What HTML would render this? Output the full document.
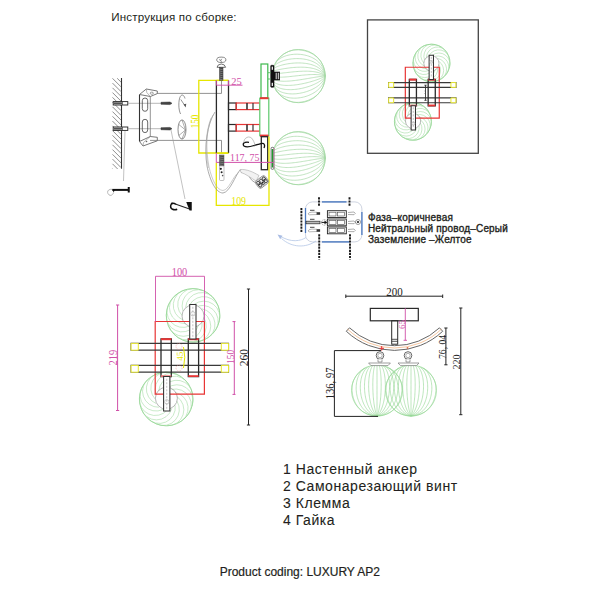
<!DOCTYPE html>
<html><head><meta charset="utf-8"><style>
html,body{margin:0;padding:0;background:#fff;width:600px;height:600px;overflow:hidden;font-family:"Liberation Sans",sans-serif;}
</style></head><body>
<svg width="600" height="600" viewBox="0 0 600 600" style="position:absolute;left:0;top:0">
<rect width="600" height="600" fill="#fff"/>
<text x="111.30" y="20.60" font-family="Liberation Sans" font-size="11.6" fill="#231f20" text-anchor="start" letter-spacing="0.17">Инструкция по сборке:</text>
<line x1="121.50" y1="78.00" x2="121.50" y2="168.70" stroke="#333" stroke-width="1.1" />
<line x1="117.20" y1="78.30" x2="121.00" y2="82.10" stroke="#6a6a6a" stroke-width="0.75" />
<line x1="112.50" y1="78.35" x2="121.00" y2="86.85" stroke="#6a6a6a" stroke-width="0.75" />
<line x1="112.50" y1="83.10" x2="121.00" y2="91.60" stroke="#6a6a6a" stroke-width="0.75" />
<line x1="112.50" y1="87.85" x2="121.00" y2="96.35" stroke="#6a6a6a" stroke-width="0.75" />
<line x1="112.50" y1="92.60" x2="121.00" y2="101.10" stroke="#6a6a6a" stroke-width="0.75" />
<line x1="112.50" y1="97.35" x2="121.00" y2="105.85" stroke="#6a6a6a" stroke-width="0.75" />
<line x1="112.50" y1="102.10" x2="121.00" y2="110.60" stroke="#6a6a6a" stroke-width="0.75" />
<line x1="112.50" y1="106.85" x2="121.00" y2="115.35" stroke="#6a6a6a" stroke-width="0.75" />
<line x1="112.50" y1="111.60" x2="121.00" y2="120.10" stroke="#6a6a6a" stroke-width="0.75" />
<line x1="112.50" y1="116.35" x2="121.00" y2="124.85" stroke="#6a6a6a" stroke-width="0.75" />
<line x1="112.50" y1="121.10" x2="121.00" y2="129.60" stroke="#6a6a6a" stroke-width="0.75" />
<line x1="112.50" y1="125.85" x2="121.00" y2="134.35" stroke="#6a6a6a" stroke-width="0.75" />
<line x1="112.50" y1="130.60" x2="121.00" y2="139.10" stroke="#6a6a6a" stroke-width="0.75" />
<line x1="112.50" y1="135.35" x2="121.00" y2="143.85" stroke="#6a6a6a" stroke-width="0.75" />
<line x1="112.50" y1="140.10" x2="121.00" y2="148.60" stroke="#6a6a6a" stroke-width="0.75" />
<line x1="112.50" y1="144.85" x2="121.00" y2="153.35" stroke="#6a6a6a" stroke-width="0.75" />
<line x1="112.50" y1="149.60" x2="121.00" y2="158.10" stroke="#6a6a6a" stroke-width="0.75" />
<line x1="112.50" y1="154.35" x2="121.00" y2="162.85" stroke="#6a6a6a" stroke-width="0.75" />
<line x1="112.50" y1="159.10" x2="121.00" y2="167.60" stroke="#6a6a6a" stroke-width="0.75" />
<line x1="112.50" y1="163.85" x2="117.65" y2="169.00" stroke="#6a6a6a" stroke-width="0.75" />
<line x1="112.50" y1="168.60" x2="112.90" y2="169.00" stroke="#6a6a6a" stroke-width="0.75" />
<rect x="113.20" y="101.60" width="14.60" height="3.40" fill="#fff" stroke="#222" stroke-width="0.9" />
<rect x="113.80" y="102.30" width="8.40" height="2.00" fill="#555" stroke="none" stroke-width="0" />
<line x1="122.50" y1="101.60" x2="122.50" y2="105.00" stroke="#333" stroke-width="0.6" />
<line x1="128.00" y1="103.30" x2="161.00" y2="103.30" stroke="#999" stroke-width="0.7" />
<path d="M161,102.30 L170,102.00 L172,103.30 L170,104.60 L161,104.30 Z" fill="#444" stroke="#333" stroke-width="0.5"/>
<rect x="113.20" y="127.00" width="14.60" height="3.40" fill="#fff" stroke="#222" stroke-width="0.9" />
<rect x="113.80" y="127.70" width="8.40" height="2.00" fill="#555" stroke="none" stroke-width="0" />
<line x1="122.50" y1="127.00" x2="122.50" y2="130.40" stroke="#333" stroke-width="0.6" />
<line x1="128.00" y1="128.70" x2="161.00" y2="128.70" stroke="#999" stroke-width="0.7" />
<path d="M161,127.70 L170,127.40 L172,128.70 L170,130.00 L161,129.70 Z" fill="#444" stroke="#333" stroke-width="0.5"/>
<path d="M139.5,94.5 L139.5,141.5" fill="none" stroke="#333" stroke-width="1.1"/>
<path d="M150.3,96.5 L150.3,139" fill="none" stroke="#777" stroke-width="0.8"/>
<path d="M139.5,94.5 L146.3,89 L157.3,91 L157.3,93.6 L150.3,96.5 Z" fill="#fff" stroke="#555" stroke-width="0.8"/>
<path d="M146.3,89 L146.8,92.5 L150.3,96.5" fill="none" stroke="#888" stroke-width="0.6"/>
<ellipse cx="151.8" cy="93.2" rx="1.6" ry="1.1" fill="none" stroke="#666" stroke-width="0.6"/>
<path d="M139.5,141.5 L143,146 L157.3,140.8 L157.3,137.3 L150.3,136.5 Z" fill="#fff" stroke="#555" stroke-width="0.8"/>
<path d="M143,146 L143.5,142.5 L150.3,136.5" fill="none" stroke="#888" stroke-width="0.6"/>
<circle cx="146.5" cy="141.5" r="0.8" fill="#666"/>
<rect x="142.30" y="98.00" width="5.40" height="13.30" fill="none" stroke="#444" stroke-width="0.8" rx="2.7"/>
<rect x="142.30" y="119.30" width="5.40" height="13.30" fill="none" stroke="#444" stroke-width="0.8" rx="2.7"/>
<path d="M157,93.4 L221.5,93.4 L221.5,80.4" fill="none" stroke="#777" stroke-width="0.8"/>
<path d="M150,140.4 L221.5,140.4 L221.5,153" fill="none" stroke="#777" stroke-width="0.8"/>
<path d="M180.6,114 C178.3,110 178.3,100 180.3,96.5 C181.8,94 184,94.8 185,98.5 M180.8,99.5 L185.3,106.3" fill="none" stroke="#666" stroke-width="0.7"/>
<path d="M183.6,104.3 L185.6,107.4 L186.3,103.7 Z" fill="#555"/>
<ellipse cx="182" cy="129.5" rx="4" ry="9.6" fill="none" stroke="#666" stroke-width="0.75"/>
<path d="M178.8,124.5 L185.5,130 L178.8,135.5 M182,120 L185.5,130 L182,139" fill="none" stroke="#777" stroke-width="0.6"/>
<line x1="125.00" y1="131.00" x2="123.50" y2="181.00" stroke="#999" stroke-width="0.6" />
<line x1="171.00" y1="130.00" x2="185.00" y2="199.00" stroke="#999" stroke-width="0.6" />
<line x1="112.30" y1="189.90" x2="128.50" y2="189.90" stroke="#111" stroke-width="2.0" />
<rect x="127.75" y="187.00" width="2.00" height="5.50" fill="#111" stroke="none" stroke-width="0" />
<path d="M112.3,188.9 L115,189.5 L113.6,192.6 Z" fill="#111"/>
<path d="M112.3,189.3 C109.5,189 107.3,190.3 107.6,192.4 C107.9,194.6 109.8,195.8 111.2,195.3 C112.4,194.8 113.4,193.6 113.6,192.6" fill="none" stroke="#999" stroke-width="0.7"/>
<path d="M186.25,202 L191.75,202 L191.75,210.5 L189.5,210.5 Z" fill="#111"/>
<path d="M176,204.3 L189.5,208.9" fill="none" stroke="#222" stroke-width="1.1"/>
<path d="M176,204.3 C174,203 171.6,202.6 171,204.5 C170.3,206.5 170.8,208.4 172.5,209.2 C174,209.9 176,209.8 177.2,209.3" fill="none" stroke="#111" stroke-width="1.5"/>
<circle cx="172" cy="203.6" r="1" fill="#111"/>
<path d="M228.5,80.4 L198.8,80.4 L198.8,153 L228.5,153" fill="none" stroke="#e6e600" stroke-width="1.3"/>
<text transform="translate(195.40,121.50) rotate(-90) scale(0.78,1)" x="0" y="3.80" font-family="Liberation Serif" font-size="11.5" fill="#e6e600" text-anchor="middle" >150</text>
<path d="M216.4,80.4 L216.4,153 M228.5,153 L228.5,80.4" fill="none" stroke="#2a2a2a" stroke-width="1.3"/>
<line x1="216.40" y1="80.40" x2="228.50" y2="80.40" stroke="#e6e600" stroke-width="1.3" />
<line x1="216.40" y1="153.20" x2="228.50" y2="153.20" stroke="#e6e600" stroke-width="1.3" />
<ellipse cx="221.3" cy="59.8" rx="4.6" ry="2.7" fill="none" stroke="#555" stroke-width="0.7"/>
<path d="M219.5,59 L220.5,61 L221.8,58.8 M221.3,61 L221.3,62.5" fill="none" stroke="#555" stroke-width="0.6"/>
<path d="M217,67.3 Q217.5,64.2 221.3,64 Q225,64.2 225.6,67.3 Z" fill="#fff" stroke="#333" stroke-width="0.7"/>
<rect x="219.60" y="67.30" width="3.40" height="13.00" fill="#777" stroke="#333" stroke-width="0.5" />
<line x1="219.60" y1="68.00" x2="223.00" y2="68.80" stroke="#222" stroke-width="0.6" />
<line x1="219.60" y1="70.00" x2="223.00" y2="70.80" stroke="#222" stroke-width="0.6" />
<line x1="219.60" y1="72.00" x2="223.00" y2="72.80" stroke="#222" stroke-width="0.6" />
<line x1="219.60" y1="74.00" x2="223.00" y2="74.80" stroke="#222" stroke-width="0.6" />
<line x1="219.60" y1="76.00" x2="223.00" y2="76.80" stroke="#222" stroke-width="0.6" />
<line x1="219.60" y1="78.00" x2="223.00" y2="78.80" stroke="#222" stroke-width="0.6" />
<path d="M216.4,80.4 L216.4,85.2 M228.5,80.4 L228.5,85.2 M216.4,85.2 L242.5,85.2" fill="none" stroke="#d050a8" stroke-width="0.9"/>
<text transform="translate(236.50,85.00) scale(1.0,1.0)" x="0" y="0" font-family="Liberation Serif" font-size="10.5" fill="#d050a8" text-anchor="middle" >25</text>
<rect x="228.50" y="103.00" width="7.70" height="6.60" fill="none" stroke="#2a2a2a" stroke-width="1.2" />
<rect x="236.20" y="103.00" width="23.80" height="6.60" fill="none" stroke="#e83535" stroke-width="1.2" />
<line x1="247.00" y1="103.00" x2="247.00" y2="109.60" stroke="#333" stroke-width="1.6" />
<line x1="253.00" y1="103.00" x2="253.00" y2="109.60" stroke="#333" stroke-width="1.2" />
<rect x="228.50" y="124.50" width="7.70" height="6.60" fill="none" stroke="#2a2a2a" stroke-width="1.2" />
<rect x="236.20" y="124.50" width="23.80" height="6.60" fill="none" stroke="#e83535" stroke-width="1.2" />
<line x1="247.00" y1="124.50" x2="247.00" y2="131.10" stroke="#333" stroke-width="1.6" />
<line x1="253.00" y1="124.50" x2="253.00" y2="131.10" stroke="#333" stroke-width="1.2" />
<rect x="261.00" y="64.00" width="6.80" height="34.20" fill="#fff" stroke="#3cb84c" stroke-width="1.2" />
<rect x="259.80" y="98.20" width="9.00" height="37.50" fill="#fff" stroke="#5cc86c" stroke-width="1.2" />
<line x1="260.00" y1="98.20" x2="268.50" y2="98.20" stroke="#e83535" stroke-width="2.0" />
<line x1="260.00" y1="135.70" x2="268.50" y2="135.70" stroke="#e83535" stroke-width="2.2" />
<rect x="261.30" y="136.70" width="6.40" height="33.00" fill="none" stroke="#2a2a2a" stroke-width="1.3" />
<circle cx="298.60" cy="76.10" r="26.60" fill="none" stroke="#8fd48f" stroke-width="0.7"/>
<path d="M325.20,76.10 L325.14,74.38 L324.98,72.70 L324.71,71.04 L324.35,69.42 L323.89,67.85 L323.34,66.32 L322.70,64.84 L321.98,63.41 L321.18,62.04 L320.31,60.79 L319.37,59.63 L318.37,58.53 L317.31,57.49 L316.19,56.52 L315.02,55.62 L313.80,54.78 L312.54,54.00 L311.24,53.30 L309.91,52.65 L308.54,52.08 L307.15,51.57 L305.75,51.12 L304.32,50.74 L302.88,50.42 L301.43,50.17 L299.98,49.98 L298.53,49.86 L297.09,49.81 L295.65,49.81 L294.23,49.89 L292.83,50.13 L291.45,50.48 L290.09,50.90 L288.77,51.38 L287.48,51.94 L286.23,52.55 L285.03,53.22 L283.87,53.95 L282.77,54.73 L281.72,55.54 L280.74,56.39 L279.82,57.27 L278.97,58.15 L278.19,59.04 L277.50,59.91 L276.88,60.74 L276.36,61.51 L275.92,62.20" fill="none" stroke="#a6d8a6" stroke-width="0.7"/>
<path d="M325.20,76.10 L325.01,74.48 L324.73,72.93 L324.35,71.45 L323.88,70.03 L323.33,68.68 L322.70,67.39 L321.99,66.16 L321.20,65.00 L320.35,63.90 L319.43,62.86 L318.45,61.89 L317.42,60.97 L316.33,60.12 L315.19,59.32 L314.00,58.59 L312.77,57.91 L311.50,57.30 L310.20,56.74 L308.87,56.23 L307.52,55.79 L306.14,55.40 L304.74,55.07 L303.33,54.79 L301.90,54.57 L300.47,54.40 L299.04,54.29 L297.61,54.23 L296.18,54.22 L294.77,54.26 L293.36,54.36 L291.97,54.50 L290.61,54.70 L289.26,54.95 L287.95,55.25 L286.67,55.59 L285.42,55.99 L284.22,56.43 L283.06,56.92 L281.95,57.46 L280.89,58.05 L279.88,58.68 L278.94,59.35 L278.06,60.07 L277.24,60.84 L276.50,61.65 L275.84,62.50 L275.25,63.39 L274.75,64.33" fill="none" stroke="#a6d8a6" stroke-width="0.7"/>
<path d="M325.20,76.10 L324.88,74.71 L324.47,73.39 L323.98,72.13 L323.42,70.94 L322.77,69.80 L322.06,68.73 L321.28,67.71 L320.43,66.76 L319.52,65.86 L318.56,65.02 L317.54,64.24 L316.47,63.51 L315.35,62.83 L314.19,62.21 L312.99,61.64 L311.75,61.13 L310.48,60.66 L309.18,60.24 L307.85,59.88 L306.50,59.56 L305.13,59.29 L303.75,59.06 L302.35,58.88 L300.95,58.75 L299.54,58.66 L298.13,58.61 L296.72,58.60 L295.32,58.64 L293.92,58.71 L292.54,58.82 L291.17,58.98 L289.82,59.17 L288.50,59.39 L287.20,59.65 L285.93,59.95 L284.70,60.28 L283.50,60.64 L282.34,61.04 L281.23,61.47 L280.17,61.92 L279.15,62.41 L278.19,62.93 L277.29,63.47 L276.45,64.04 L275.67,64.63 L274.96,65.25 L274.33,65.90 L273.77,66.56" fill="none" stroke="#a6d8a6" stroke-width="0.7"/>
<path d="M325.20,76.10 L324.75,74.96 L324.22,73.88 L323.62,72.86 L322.95,71.90 L322.22,70.99 L321.42,70.14 L320.57,69.34 L319.66,68.60 L318.69,67.91 L317.68,67.27 L316.62,66.67 L315.52,66.13 L314.38,65.63 L313.20,65.18 L311.98,64.78 L310.74,64.42 L309.46,64.10 L308.16,63.82 L306.84,63.58 L305.50,63.39 L304.15,63.22 L302.78,63.10 L301.40,63.01 L300.02,62.96 L298.64,62.94 L297.25,62.95 L295.87,62.99 L294.49,63.06 L293.12,63.16 L291.77,63.29 L290.43,63.44 L289.10,63.62 L287.80,63.82 L286.53,64.04 L285.28,64.29 L284.06,64.55 L282.88,64.83 L281.73,65.14 L280.63,65.45 L279.57,65.79 L278.55,66.14 L277.58,66.50 L276.67,66.87 L275.81,67.26 L275.01,67.65 L274.28,68.05 L273.60,68.46 L273.00,68.88" fill="none" stroke="#a6d8a6" stroke-width="0.7"/>
<path d="M325.20,76.10 L324.61,75.22 L323.96,74.40 L323.25,73.63 L322.48,72.91 L321.66,72.24 L320.78,71.62 L319.86,71.05 L318.88,70.52 L317.87,70.04 L316.81,69.60 L315.71,69.20 L314.58,68.84 L313.41,68.52 L312.21,68.24 L310.98,68.00 L309.73,67.79 L308.45,67.61 L307.16,67.47 L305.85,67.35 L304.52,67.27 L303.18,67.21 L301.83,67.18 L300.48,67.18 L299.12,67.19 L297.76,67.24 L296.40,67.30 L295.05,67.38 L293.71,67.48 L292.37,67.60 L291.05,67.73 L289.74,67.88 L288.45,68.04 L287.18,68.21 L285.93,68.40 L284.71,68.59 L283.52,68.79 L282.36,68.99 L281.23,69.20 L280.14,69.41 L279.09,69.63 L278.09,69.84 L277.12,70.06 L276.21,70.27 L275.34,70.48 L274.53,70.68 L273.78,70.88 L273.08,71.07 L272.45,71.25" fill="none" stroke="#a6d8a6" stroke-width="0.7"/>
<path d="M325.20,76.10 L324.48,75.50 L323.71,74.95 L322.89,74.44 L322.02,73.98 L321.10,73.56 L320.15,73.18 L319.15,72.83 L318.11,72.53 L317.04,72.26 L315.94,72.02 L314.80,71.81 L313.63,71.64 L312.44,71.50 L311.23,71.38 L309.99,71.29 L308.73,71.23 L307.46,71.19 L306.17,71.18 L304.87,71.18 L303.55,71.20 L302.23,71.24 L300.91,71.30 L299.58,71.37 L298.25,71.46 L296.92,71.55 L295.59,71.66 L294.28,71.78 L292.97,71.90 L291.67,72.03 L290.38,72.17 L289.11,72.30 L287.86,72.44 L286.62,72.58 L285.41,72.72 L284.22,72.85 L283.07,72.98 L281.94,73.11 L280.84,73.23 L279.77,73.33 L278.75,73.43 L277.76,73.52 L276.81,73.59 L275.90,73.65 L275.04,73.69 L274.23,73.71 L273.47,73.72 L272.76,73.70 L272.11,73.67" fill="none" stroke="#a6d8a6" stroke-width="0.7"/>
<path d="M325.20,76.10 L324.35,75.80 L323.45,75.53 L322.52,75.30 L321.55,75.11 L320.55,74.94 L319.51,74.80 L318.44,74.70 L317.34,74.61 L316.22,74.56 L315.07,74.53 L313.89,74.52 L312.70,74.53 L311.48,74.56 L310.25,74.61 L309.00,74.67 L307.74,74.75 L306.47,74.85 L305.19,74.95 L303.90,75.06 L302.60,75.19 L301.30,75.32 L300.00,75.46 L298.70,75.60 L297.40,75.74 L296.11,75.89 L294.82,76.03 L293.54,76.17 L292.27,76.31 L291.01,76.45 L289.77,76.58 L288.54,76.70 L287.33,76.81 L286.14,76.91 L284.97,77.00 L283.83,77.07 L282.71,77.13 L281.62,77.17 L280.55,77.20 L279.52,77.20 L278.53,77.19 L277.57,77.15 L276.64,77.08 L275.76,76.99 L274.92,76.87 L274.12,76.73 L273.36,76.55 L272.66,76.34 L272.00,76.10" fill="none" stroke="#a6d8a6" stroke-width="0.7"/>
<path d="M325.20,76.10 L324.48,76.11 L323.71,76.15 L322.89,76.21 L322.02,76.29 L321.10,76.39 L320.15,76.50 L319.15,76.64 L318.11,76.79 L317.04,76.95 L315.94,77.12 L314.80,77.31 L313.63,77.50 L312.44,77.71 L311.23,77.92 L309.99,78.13 L308.73,78.35 L307.46,78.57 L306.17,78.79 L304.87,79.01 L303.55,79.23 L302.23,79.44 L300.91,79.65 L299.58,79.85 L298.25,80.05 L296.92,80.23 L295.59,80.40 L294.28,80.57 L292.97,80.71 L291.67,80.85 L290.38,80.96 L289.11,81.06 L287.86,81.14 L286.62,81.19 L285.41,81.23 L284.22,81.24 L283.07,81.22 L281.94,81.18 L280.84,81.11 L279.77,81.01 L278.75,80.88 L277.76,80.72 L276.81,80.52 L275.90,80.29 L275.04,80.02 L274.23,79.71 L273.47,79.36 L272.76,78.97 L272.11,78.53" fill="none" stroke="#a6d8a6" stroke-width="0.7"/>
<path d="M325.20,76.10 L324.61,76.44 L323.96,76.79 L323.25,77.15 L322.48,77.52 L321.66,77.90 L320.78,78.27 L319.86,78.66 L318.88,79.04 L317.87,79.42 L316.81,79.81 L315.71,80.19 L314.58,80.56 L313.41,80.94 L312.21,81.31 L310.98,81.67 L309.73,82.02 L308.45,82.36 L307.16,82.69 L305.85,83.01 L304.52,83.31 L303.18,83.60 L301.83,83.88 L300.48,84.13 L299.12,84.37 L297.76,84.58 L296.40,84.78 L295.05,84.95 L293.71,85.10 L292.37,85.22 L291.05,85.31 L289.74,85.38 L288.45,85.42 L287.18,85.43 L285.93,85.40 L284.71,85.34 L283.52,85.25 L282.36,85.12 L281.23,84.95 L280.14,84.75 L279.09,84.50 L278.09,84.22 L277.12,83.89 L276.21,83.51 L275.34,83.10 L274.53,82.63 L273.78,82.12 L273.08,81.56 L272.45,80.95" fill="none" stroke="#a6d8a6" stroke-width="0.7"/>
<path d="M325.20,76.10 L324.75,76.79 L324.22,77.47 L323.62,78.15 L322.95,78.81 L322.22,79.47 L321.42,80.12 L320.57,80.75 L319.66,81.37 L318.69,81.98 L317.68,82.58 L316.62,83.15 L315.52,83.71 L314.38,84.25 L313.20,84.78 L311.98,85.28 L310.74,85.76 L309.46,86.22 L308.16,86.65 L306.84,87.06 L305.50,87.45 L304.15,87.80 L302.78,88.13 L301.40,88.43 L300.02,88.70 L298.64,88.94 L297.25,89.15 L295.87,89.32 L294.49,89.46 L293.12,89.56 L291.77,89.63 L290.43,89.66 L289.10,89.65 L287.80,89.60 L286.53,89.51 L285.28,89.37 L284.06,89.20 L282.88,88.98 L281.73,88.71 L280.63,88.40 L279.57,88.04 L278.55,87.63 L277.58,87.17 L276.67,86.67 L275.81,86.10 L275.01,85.49 L274.28,84.82 L273.60,84.10 L273.00,83.32" fill="none" stroke="#a6d8a6" stroke-width="0.7"/>
<path d="M325.20,76.10 L324.88,77.15 L324.47,78.18 L323.98,79.18 L323.42,80.16 L322.77,81.11 L322.06,82.03 L321.28,82.93 L320.43,83.79 L319.52,84.63 L318.56,85.43 L317.54,86.21 L316.47,86.95 L315.35,87.66 L314.19,88.33 L312.99,88.97 L311.75,89.58 L310.48,90.14 L309.18,90.68 L307.85,91.17 L306.50,91.63 L305.13,92.04 L303.75,92.42 L302.35,92.76 L300.95,93.05 L299.54,93.30 L298.13,93.51 L296.72,93.68 L295.32,93.80 L293.92,93.88 L292.54,93.91 L291.17,93.89 L289.82,93.82 L288.50,93.71 L287.20,93.54 L285.93,93.33 L284.70,93.07 L283.50,92.75 L282.34,92.38 L281.23,91.96 L280.17,91.48 L279.15,90.95 L278.19,90.37 L277.29,89.72 L276.45,89.02 L275.67,88.27 L274.96,87.45 L274.33,86.57 L273.77,85.64" fill="none" stroke="#a6d8a6" stroke-width="0.7"/>
<path d="M325.20,76.10 L325.01,77.53 L324.73,78.92 L324.35,80.26 L323.88,81.56 L323.33,82.81 L322.70,84.02 L321.99,85.18 L321.20,86.29 L320.35,87.36 L319.43,88.38 L318.45,89.35 L317.42,90.27 L316.33,91.14 L315.19,91.96 L314.00,92.74 L312.77,93.46 L311.50,94.14 L310.20,94.76 L308.87,95.33 L307.52,95.85 L306.14,96.32 L304.74,96.74 L303.33,97.10 L301.90,97.41 L300.47,97.67 L299.04,97.87 L297.61,98.02 L296.18,98.11 L294.77,98.15 L293.36,98.13 L291.97,98.06 L290.61,97.93 L289.26,97.75 L287.95,97.50 L286.67,97.20 L285.42,96.84 L284.22,96.42 L283.06,95.95 L281.95,95.41 L280.89,94.82 L279.88,94.16 L278.94,93.45 L278.06,92.67 L277.24,91.84 L276.50,90.91 L275.84,89.86 L275.25,88.84 L274.75,87.87" fill="none" stroke="#a6d8a6" stroke-width="0.7"/>
<path d="M325.20,76.10 L325.14,77.82 L324.98,79.50 L324.71,81.16 L324.35,82.78 L323.89,84.35 L323.34,85.88 L322.70,87.36 L321.98,88.79 L321.18,90.16 L320.31,91.41 L319.37,92.57 L318.37,93.67 L317.31,94.71 L316.19,95.68 L315.02,96.58 L313.80,97.42 L312.54,98.20 L311.24,98.90 L309.91,99.55 L308.54,100.12 L307.15,100.63 L305.75,101.08 L304.32,101.46 L302.88,101.78 L301.43,102.03 L299.98,102.22 L298.53,102.34 L297.09,102.39 L295.65,102.39 L294.23,102.31 L292.83,102.07 L291.45,101.72 L290.09,101.30 L288.77,100.82 L287.48,100.26 L286.23,99.65 L285.03,98.98 L283.87,98.25 L282.77,97.47 L281.72,96.66 L280.74,95.81 L279.82,94.93 L278.97,94.05 L278.19,93.16 L277.50,92.29 L276.88,91.46 L276.36,90.69 L275.92,90.00" fill="none" stroke="#a6d8a6" stroke-width="0.7"/>
<circle cx="298.60" cy="158.20" r="26.60" fill="none" stroke="#8fd48f" stroke-width="0.7"/>
<path d="M325.20,158.20 L325.14,156.48 L324.98,154.80 L324.71,153.14 L324.35,151.52 L323.89,149.95 L323.34,148.42 L322.70,146.94 L321.98,145.51 L321.18,144.14 L320.31,142.89 L319.37,141.73 L318.37,140.63 L317.31,139.59 L316.19,138.62 L315.02,137.72 L313.80,136.88 L312.54,136.10 L311.24,135.40 L309.91,134.75 L308.54,134.18 L307.15,133.67 L305.75,133.22 L304.32,132.84 L302.88,132.52 L301.43,132.27 L299.98,132.08 L298.53,131.96 L297.09,131.91 L295.65,131.91 L294.23,131.99 L292.83,132.23 L291.45,132.58 L290.09,133.00 L288.77,133.48 L287.48,134.04 L286.23,134.65 L285.03,135.32 L283.87,136.05 L282.77,136.83 L281.72,137.64 L280.74,138.49 L279.82,139.37 L278.97,140.25 L278.19,141.14 L277.50,142.01 L276.88,142.84 L276.36,143.61 L275.92,144.30" fill="none" stroke="#a6d8a6" stroke-width="0.7"/>
<path d="M325.20,158.20 L325.01,156.58 L324.73,155.03 L324.35,153.55 L323.88,152.13 L323.33,150.78 L322.70,149.49 L321.99,148.26 L321.20,147.10 L320.35,146.00 L319.43,144.96 L318.45,143.99 L317.42,143.07 L316.33,142.22 L315.19,141.42 L314.00,140.69 L312.77,140.01 L311.50,139.40 L310.20,138.84 L308.87,138.33 L307.52,137.89 L306.14,137.50 L304.74,137.17 L303.33,136.89 L301.90,136.67 L300.47,136.50 L299.04,136.39 L297.61,136.33 L296.18,136.32 L294.77,136.36 L293.36,136.46 L291.97,136.60 L290.61,136.80 L289.26,137.05 L287.95,137.35 L286.67,137.69 L285.42,138.09 L284.22,138.53 L283.06,139.02 L281.95,139.56 L280.89,140.15 L279.88,140.78 L278.94,141.45 L278.06,142.17 L277.24,142.94 L276.50,143.75 L275.84,144.60 L275.25,145.49 L274.75,146.43" fill="none" stroke="#a6d8a6" stroke-width="0.7"/>
<path d="M325.20,158.20 L324.88,156.81 L324.47,155.49 L323.98,154.23 L323.42,153.04 L322.77,151.90 L322.06,150.83 L321.28,149.81 L320.43,148.86 L319.52,147.96 L318.56,147.12 L317.54,146.34 L316.47,145.61 L315.35,144.93 L314.19,144.31 L312.99,143.74 L311.75,143.23 L310.48,142.76 L309.18,142.34 L307.85,141.98 L306.50,141.66 L305.13,141.39 L303.75,141.16 L302.35,140.98 L300.95,140.85 L299.54,140.76 L298.13,140.71 L296.72,140.70 L295.32,140.74 L293.92,140.81 L292.54,140.92 L291.17,141.08 L289.82,141.27 L288.50,141.49 L287.20,141.75 L285.93,142.05 L284.70,142.38 L283.50,142.74 L282.34,143.14 L281.23,143.57 L280.17,144.02 L279.15,144.51 L278.19,145.03 L277.29,145.57 L276.45,146.14 L275.67,146.73 L274.96,147.35 L274.33,148.00 L273.77,148.66" fill="none" stroke="#a6d8a6" stroke-width="0.7"/>
<path d="M325.20,158.20 L324.75,157.06 L324.22,155.98 L323.62,154.96 L322.95,154.00 L322.22,153.09 L321.42,152.24 L320.57,151.44 L319.66,150.70 L318.69,150.01 L317.68,149.37 L316.62,148.77 L315.52,148.23 L314.38,147.73 L313.20,147.28 L311.98,146.88 L310.74,146.52 L309.46,146.20 L308.16,145.92 L306.84,145.68 L305.50,145.49 L304.15,145.32 L302.78,145.20 L301.40,145.11 L300.02,145.06 L298.64,145.04 L297.25,145.05 L295.87,145.09 L294.49,145.16 L293.12,145.26 L291.77,145.39 L290.43,145.54 L289.10,145.72 L287.80,145.92 L286.53,146.14 L285.28,146.39 L284.06,146.65 L282.88,146.93 L281.73,147.24 L280.63,147.55 L279.57,147.89 L278.55,148.24 L277.58,148.60 L276.67,148.97 L275.81,149.36 L275.01,149.75 L274.28,150.15 L273.60,150.56 L273.00,150.98" fill="none" stroke="#a6d8a6" stroke-width="0.7"/>
<path d="M325.20,158.20 L324.61,157.32 L323.96,156.50 L323.25,155.73 L322.48,155.01 L321.66,154.34 L320.78,153.72 L319.86,153.15 L318.88,152.62 L317.87,152.14 L316.81,151.70 L315.71,151.30 L314.58,150.94 L313.41,150.62 L312.21,150.34 L310.98,150.10 L309.73,149.89 L308.45,149.71 L307.16,149.57 L305.85,149.45 L304.52,149.37 L303.18,149.31 L301.83,149.28 L300.48,149.28 L299.12,149.29 L297.76,149.34 L296.40,149.40 L295.05,149.48 L293.71,149.58 L292.37,149.70 L291.05,149.83 L289.74,149.98 L288.45,150.14 L287.18,150.31 L285.93,150.50 L284.71,150.69 L283.52,150.89 L282.36,151.09 L281.23,151.30 L280.14,151.51 L279.09,151.73 L278.09,151.94 L277.12,152.16 L276.21,152.37 L275.34,152.58 L274.53,152.78 L273.78,152.98 L273.08,153.17 L272.45,153.35" fill="none" stroke="#a6d8a6" stroke-width="0.7"/>
<path d="M325.20,158.20 L324.48,157.60 L323.71,157.05 L322.89,156.54 L322.02,156.08 L321.10,155.66 L320.15,155.28 L319.15,154.93 L318.11,154.63 L317.04,154.36 L315.94,154.12 L314.80,153.91 L313.63,153.74 L312.44,153.60 L311.23,153.48 L309.99,153.39 L308.73,153.33 L307.46,153.29 L306.17,153.28 L304.87,153.28 L303.55,153.30 L302.23,153.34 L300.91,153.40 L299.58,153.47 L298.25,153.56 L296.92,153.65 L295.59,153.76 L294.28,153.88 L292.97,154.00 L291.67,154.13 L290.38,154.27 L289.11,154.40 L287.86,154.54 L286.62,154.68 L285.41,154.82 L284.22,154.95 L283.07,155.08 L281.94,155.21 L280.84,155.33 L279.77,155.43 L278.75,155.53 L277.76,155.62 L276.81,155.69 L275.90,155.75 L275.04,155.79 L274.23,155.81 L273.47,155.82 L272.76,155.80 L272.11,155.77" fill="none" stroke="#a6d8a6" stroke-width="0.7"/>
<path d="M325.20,158.20 L324.35,157.90 L323.45,157.63 L322.52,157.40 L321.55,157.21 L320.55,157.04 L319.51,156.90 L318.44,156.80 L317.34,156.71 L316.22,156.66 L315.07,156.63 L313.89,156.62 L312.70,156.63 L311.48,156.66 L310.25,156.71 L309.00,156.77 L307.74,156.85 L306.47,156.95 L305.19,157.05 L303.90,157.16 L302.60,157.29 L301.30,157.42 L300.00,157.56 L298.70,157.70 L297.40,157.84 L296.11,157.99 L294.82,158.13 L293.54,158.27 L292.27,158.41 L291.01,158.55 L289.77,158.68 L288.54,158.80 L287.33,158.91 L286.14,159.01 L284.97,159.10 L283.83,159.17 L282.71,159.23 L281.62,159.27 L280.55,159.30 L279.52,159.30 L278.53,159.29 L277.57,159.25 L276.64,159.18 L275.76,159.09 L274.92,158.97 L274.12,158.83 L273.36,158.65 L272.66,158.44 L272.00,158.20" fill="none" stroke="#a6d8a6" stroke-width="0.7"/>
<path d="M325.20,158.20 L324.48,158.21 L323.71,158.25 L322.89,158.31 L322.02,158.39 L321.10,158.49 L320.15,158.60 L319.15,158.74 L318.11,158.89 L317.04,159.05 L315.94,159.22 L314.80,159.41 L313.63,159.60 L312.44,159.81 L311.23,160.02 L309.99,160.23 L308.73,160.45 L307.46,160.67 L306.17,160.89 L304.87,161.11 L303.55,161.33 L302.23,161.54 L300.91,161.75 L299.58,161.95 L298.25,162.15 L296.92,162.33 L295.59,162.50 L294.28,162.67 L292.97,162.81 L291.67,162.95 L290.38,163.06 L289.11,163.16 L287.86,163.24 L286.62,163.29 L285.41,163.33 L284.22,163.34 L283.07,163.32 L281.94,163.28 L280.84,163.21 L279.77,163.11 L278.75,162.98 L277.76,162.82 L276.81,162.62 L275.90,162.39 L275.04,162.12 L274.23,161.81 L273.47,161.46 L272.76,161.07 L272.11,160.63" fill="none" stroke="#a6d8a6" stroke-width="0.7"/>
<path d="M325.20,158.20 L324.61,158.54 L323.96,158.89 L323.25,159.25 L322.48,159.62 L321.66,160.00 L320.78,160.37 L319.86,160.76 L318.88,161.14 L317.87,161.52 L316.81,161.91 L315.71,162.29 L314.58,162.66 L313.41,163.04 L312.21,163.41 L310.98,163.77 L309.73,164.12 L308.45,164.46 L307.16,164.79 L305.85,165.11 L304.52,165.41 L303.18,165.70 L301.83,165.98 L300.48,166.23 L299.12,166.47 L297.76,166.68 L296.40,166.88 L295.05,167.05 L293.71,167.20 L292.37,167.32 L291.05,167.41 L289.74,167.48 L288.45,167.52 L287.18,167.53 L285.93,167.50 L284.71,167.44 L283.52,167.35 L282.36,167.22 L281.23,167.05 L280.14,166.85 L279.09,166.60 L278.09,166.32 L277.12,165.99 L276.21,165.61 L275.34,165.20 L274.53,164.73 L273.78,164.22 L273.08,163.66 L272.45,163.05" fill="none" stroke="#a6d8a6" stroke-width="0.7"/>
<path d="M325.20,158.20 L324.75,158.89 L324.22,159.57 L323.62,160.25 L322.95,160.91 L322.22,161.57 L321.42,162.22 L320.57,162.85 L319.66,163.47 L318.69,164.08 L317.68,164.68 L316.62,165.25 L315.52,165.81 L314.38,166.35 L313.20,166.88 L311.98,167.38 L310.74,167.86 L309.46,168.32 L308.16,168.75 L306.84,169.16 L305.50,169.55 L304.15,169.90 L302.78,170.23 L301.40,170.53 L300.02,170.80 L298.64,171.04 L297.25,171.25 L295.87,171.42 L294.49,171.56 L293.12,171.66 L291.77,171.73 L290.43,171.76 L289.10,171.75 L287.80,171.70 L286.53,171.61 L285.28,171.47 L284.06,171.30 L282.88,171.08 L281.73,170.81 L280.63,170.50 L279.57,170.14 L278.55,169.73 L277.58,169.27 L276.67,168.77 L275.81,168.20 L275.01,167.59 L274.28,166.92 L273.60,166.20 L273.00,165.42" fill="none" stroke="#a6d8a6" stroke-width="0.7"/>
<path d="M325.20,158.20 L324.88,159.25 L324.47,160.28 L323.98,161.28 L323.42,162.26 L322.77,163.21 L322.06,164.13 L321.28,165.03 L320.43,165.89 L319.52,166.73 L318.56,167.53 L317.54,168.31 L316.47,169.05 L315.35,169.76 L314.19,170.43 L312.99,171.07 L311.75,171.68 L310.48,172.24 L309.18,172.78 L307.85,173.27 L306.50,173.73 L305.13,174.14 L303.75,174.52 L302.35,174.86 L300.95,175.15 L299.54,175.40 L298.13,175.61 L296.72,175.78 L295.32,175.90 L293.92,175.98 L292.54,176.01 L291.17,175.99 L289.82,175.92 L288.50,175.81 L287.20,175.64 L285.93,175.43 L284.70,175.17 L283.50,174.85 L282.34,174.48 L281.23,174.06 L280.17,173.58 L279.15,173.05 L278.19,172.47 L277.29,171.82 L276.45,171.12 L275.67,170.37 L274.96,169.55 L274.33,168.67 L273.77,167.74" fill="none" stroke="#a6d8a6" stroke-width="0.7"/>
<path d="M325.20,158.20 L325.01,159.63 L324.73,161.02 L324.35,162.36 L323.88,163.66 L323.33,164.91 L322.70,166.12 L321.99,167.28 L321.20,168.39 L320.35,169.46 L319.43,170.48 L318.45,171.45 L317.42,172.37 L316.33,173.24 L315.19,174.06 L314.00,174.84 L312.77,175.56 L311.50,176.24 L310.20,176.86 L308.87,177.43 L307.52,177.95 L306.14,178.42 L304.74,178.84 L303.33,179.20 L301.90,179.51 L300.47,179.77 L299.04,179.97 L297.61,180.12 L296.18,180.21 L294.77,180.25 L293.36,180.23 L291.97,180.16 L290.61,180.03 L289.26,179.85 L287.95,179.60 L286.67,179.30 L285.42,178.94 L284.22,178.52 L283.06,178.05 L281.95,177.51 L280.89,176.92 L279.88,176.26 L278.94,175.55 L278.06,174.77 L277.24,173.94 L276.50,173.01 L275.84,171.96 L275.25,170.94 L274.75,169.97" fill="none" stroke="#a6d8a6" stroke-width="0.7"/>
<path d="M325.20,158.20 L325.14,159.92 L324.98,161.60 L324.71,163.26 L324.35,164.88 L323.89,166.45 L323.34,167.98 L322.70,169.46 L321.98,170.89 L321.18,172.26 L320.31,173.51 L319.37,174.67 L318.37,175.77 L317.31,176.81 L316.19,177.78 L315.02,178.68 L313.80,179.52 L312.54,180.30 L311.24,181.00 L309.91,181.65 L308.54,182.22 L307.15,182.73 L305.75,183.18 L304.32,183.56 L302.88,183.88 L301.43,184.13 L299.98,184.32 L298.53,184.44 L297.09,184.49 L295.65,184.49 L294.23,184.41 L292.83,184.17 L291.45,183.82 L290.09,183.40 L288.77,182.92 L287.48,182.36 L286.23,181.75 L285.03,181.08 L283.87,180.35 L282.77,179.57 L281.72,178.76 L280.74,177.91 L279.82,177.03 L278.97,176.15 L278.19,175.26 L277.50,174.39 L276.88,173.56 L276.36,172.79 L275.92,172.10" fill="none" stroke="#a6d8a6" stroke-width="0.7"/>
<rect x="270.70" y="65.30" width="3.30" height="22.00" fill="#111" stroke="#111" stroke-width="0.6" rx="0.8"/>
<rect x="271.70" y="66.60" width="1.20" height="3.20" fill="#fff" stroke="none" stroke-width="0" />
<rect x="271.70" y="82.80" width="1.20" height="3.20" fill="#fff" stroke="none" stroke-width="0" />
<rect x="274.00" y="72.00" width="5.70" height="8.00" fill="#111" stroke="#111" stroke-width="0.6" />
<line x1="276.20" y1="72.80" x2="276.20" y2="79.20" stroke="#fff" stroke-width="0.9" />
<line x1="278.30" y1="72.80" x2="278.30" y2="79.20" stroke="#fff" stroke-width="0.9" />
<line x1="268.00" y1="72.70" x2="270.70" y2="72.70" stroke="#3cb84c" stroke-width="0.8" />
<line x1="268.00" y1="79.00" x2="270.70" y2="79.00" stroke="#3cb84c" stroke-width="0.8" />
<rect x="271.10" y="147.30" width="2.80" height="22.00" fill="#fff" stroke="#444" stroke-width="0.7" rx="1"/>
<line x1="272.50" y1="149.00" x2="272.50" y2="167.50" stroke="#1f9a2f" stroke-width="1.6" />
<line x1="273.90" y1="148.00" x2="273.90" y2="168.00" stroke="#d060a0" stroke-width="0.6" />
<path d="M269,136.5 L269,205.3 L216.3,205.3 L216.3,162.4" fill="none" stroke="#e6e600" stroke-width="1.3"/>
<text transform="translate(238.60,204.90) scale(0.84,1.0)" x="0" y="0" font-family="Liberation Serif" font-size="11.8" fill="#e6e600" text-anchor="middle" >109</text>
<path d="M216.3,153 L216.3,162.4 L273.5,162.4" fill="none" stroke="#d050a8" stroke-width="1"/>
<text transform="translate(244.70,161.30) scale(0.9,1.0)" x="0" y="0" font-family="Liberation Serif" font-size="11" fill="#d050a8" text-anchor="middle" >117, 75</text>
<rect x="219.50" y="155.00" width="4.50" height="11.00" fill="#777" stroke="#555" stroke-width="0.5" />
<line x1="219.50" y1="156.00" x2="224.00" y2="156.80" stroke="#333" stroke-width="0.6" />
<line x1="219.50" y1="158.00" x2="224.00" y2="158.80" stroke="#333" stroke-width="0.6" />
<line x1="219.50" y1="160.00" x2="224.00" y2="160.80" stroke="#333" stroke-width="0.6" />
<line x1="219.50" y1="162.00" x2="224.00" y2="162.80" stroke="#333" stroke-width="0.6" />
<line x1="219.50" y1="164.00" x2="224.00" y2="164.80" stroke="#333" stroke-width="0.6" />
<rect x="219.50" y="166.00" width="4.50" height="14.50" fill="#fff" stroke="#999" stroke-width="0.6" rx="1"/>
<circle cx="220.8" cy="168.8" r="1.1" fill="#222"/>
<circle cx="221.6" cy="172.3" r="1.0" fill="#222"/>
<circle cx="222.6" cy="175.6" r="0.8" fill="#555"/>
<path d="M215,112 C207,124 204,148 207,166 C210,181 216,193 223,193 C230,192 235,176 240,170" fill="none" stroke="#888" stroke-width="0.7"/>
<path d="M213,115 C206,127 205.5,149 209,167 C212,180 217,190.5 223,190.5 C229,190 233,176 239,172" fill="none" stroke="#aaa" stroke-width="0.6"/>
<path d="M211,118 C205,134 205,152 208.5,168" fill="none" stroke="#aaa" stroke-width="0.5"/>
<path d="M240,170.5 C246,170 250,172 256,176 M241,172.5 C247,172 251,175 256,179 M249,176 C251,180 253,182 257,183" fill="none" stroke="#999" stroke-width="0.9"/>
<path d="M240,169.5 C247,169 253,172 259,175.5 L256,181 C251,178 246,174 241,172.5 Z" fill="#f2f2f2" stroke="#aaa" stroke-width="0.6"/>
<g transform="translate(262,182) rotate(-38)"><rect x="-6" y="-4.5" width="12" height="9" rx="2.5" fill="#e6e6e6" stroke="#777" stroke-width="0.7"/><rect x="-4.8" y="-3.2" width="2.6" height="6.4" rx="1.2" fill="none" stroke="#333" stroke-width="0.9"/><rect x="-1.3" y="-3.2" width="2.6" height="6.4" rx="1.2" fill="none" stroke="#444" stroke-width="0.9"/><rect x="2.2" y="-3.2" width="2.6" height="6.4" rx="1.2" fill="none" stroke="#333" stroke-width="0.9"/><circle cx="-3.5" cy="0" r="0.9" fill="#222"/><circle cx="0" cy="1" r="0.9" fill="#222"/><circle cx="3.5" cy="0" r="0.9" fill="#222"/></g>
<path d="M249,142.3 C244,141.5 242,144 244,146 C246,147.5 251,146.5 254,145.5 L258,144.5 C261,143.5 263,142.5 264,144 C265,145.5 264.5,147 264,148" fill="none" stroke="#111" stroke-width="1.3"/>
<path d="M244,143 C243,138 250,134 253,140 C254,142 255,144 255,146" fill="none" stroke="#999" stroke-width="0.6"/>
<rect x="367.50" y="19.90" width="110.80" height="133.40" fill="none" stroke="#444" stroke-width="1.3" />
<g transform="translate(422.3,92.65) scale(0.69,0.70)">
<circle cx="13.30" cy="-42.40" r="26.80" fill="none" stroke="#78cc78" stroke-width="0.75" vector-effect="non-scaling-stroke"/>
<path d="M24.08,-40.21 A16,16 0 0 1 3.50,-17.46" fill="none" stroke="#a4dba4" stroke-width="0.6" vector-effect="non-scaling-stroke"/>
<path d="M22.26,-36.02 A16,16 0 0 1 -5.80,-23.60" fill="none" stroke="#a4dba4" stroke-width="0.6" vector-effect="non-scaling-stroke"/>
<path d="M18.89,-32.93 A16,16 0 0 1 -11.80,-33.00" fill="none" stroke="#a4dba4" stroke-width="0.6" vector-effect="non-scaling-stroke"/>
<path d="M14.55,-31.47 A16,16 0 0 1 -13.45,-44.02" fill="none" stroke="#a4dba4" stroke-width="0.6" vector-effect="non-scaling-stroke"/>
<path d="M10.00,-31.91 A16,16 0 0 1 -10.48,-54.76" fill="none" stroke="#a4dba4" stroke-width="0.6" vector-effect="non-scaling-stroke"/>
<path d="M6.02,-34.16 A16,16 0 0 1 -3.40,-63.36" fill="none" stroke="#a4dba4" stroke-width="0.6" vector-effect="non-scaling-stroke"/>
<path d="M3.29,-37.83 A16,16 0 0 1 6.57,-68.34" fill="none" stroke="#a4dba4" stroke-width="0.6" vector-effect="non-scaling-stroke"/>
<path d="M2.30,-42.30 A16,16 0 0 1 17.70,-68.84" fill="none" stroke="#a4dba4" stroke-width="0.6" vector-effect="non-scaling-stroke"/>
<path d="M3.21,-46.78 A16,16 0 0 1 28.08,-64.76" fill="none" stroke="#a4dba4" stroke-width="0.6" vector-effect="non-scaling-stroke"/>
<path d="M5.86,-50.50 A16,16 0 0 1 35.89,-56.82" fill="none" stroke="#a4dba4" stroke-width="0.6" vector-effect="non-scaling-stroke"/>
<path d="M9.80,-52.83 A16,16 0 0 1 39.80,-46.38" fill="none" stroke="#a4dba4" stroke-width="0.6" vector-effect="non-scaling-stroke"/>
<path d="M14.35,-53.35 A16,16 0 0 1 39.13,-35.26" fill="none" stroke="#a4dba4" stroke-width="0.6" vector-effect="non-scaling-stroke"/>
<path d="M18.71,-51.98 A16,16 0 0 1 33.99,-25.37" fill="none" stroke="#a4dba4" stroke-width="0.6" vector-effect="non-scaling-stroke"/>
<path d="M22.14,-48.95 A16,16 0 0 1 25.28,-18.42" fill="none" stroke="#a4dba4" stroke-width="0.6" vector-effect="non-scaling-stroke"/>
<path d="M24.04,-44.79 A16,16 0 0 1 14.49,-15.63" fill="none" stroke="#a4dba4" stroke-width="0.6" vector-effect="non-scaling-stroke"/>
<circle cx="-13.60" cy="41.20" r="26.80" fill="none" stroke="#78cc78" stroke-width="0.75" vector-effect="non-scaling-stroke"/>
<path d="M-2.82,43.39 A16,16 0 0 1 -23.40,66.14" fill="none" stroke="#a4dba4" stroke-width="0.6" vector-effect="non-scaling-stroke"/>
<path d="M-4.64,47.58 A16,16 0 0 1 -32.70,60.00" fill="none" stroke="#a4dba4" stroke-width="0.6" vector-effect="non-scaling-stroke"/>
<path d="M-8.01,50.67 A16,16 0 0 1 -38.70,50.60" fill="none" stroke="#a4dba4" stroke-width="0.6" vector-effect="non-scaling-stroke"/>
<path d="M-12.35,52.13 A16,16 0 0 1 -40.35,39.58" fill="none" stroke="#a4dba4" stroke-width="0.6" vector-effect="non-scaling-stroke"/>
<path d="M-16.90,51.69 A16,16 0 0 1 -37.38,28.84" fill="none" stroke="#a4dba4" stroke-width="0.6" vector-effect="non-scaling-stroke"/>
<path d="M-20.88,49.44 A16,16 0 0 1 -30.30,20.24" fill="none" stroke="#a4dba4" stroke-width="0.6" vector-effect="non-scaling-stroke"/>
<path d="M-23.61,45.77 A16,16 0 0 1 -20.33,15.26" fill="none" stroke="#a4dba4" stroke-width="0.6" vector-effect="non-scaling-stroke"/>
<path d="M-24.60,41.30 A16,16 0 0 1 -9.20,14.76" fill="none" stroke="#a4dba4" stroke-width="0.6" vector-effect="non-scaling-stroke"/>
<path d="M-23.69,36.82 A16,16 0 0 1 1.18,18.84" fill="none" stroke="#a4dba4" stroke-width="0.6" vector-effect="non-scaling-stroke"/>
<path d="M-21.04,33.10 A16,16 0 0 1 8.99,26.78" fill="none" stroke="#a4dba4" stroke-width="0.6" vector-effect="non-scaling-stroke"/>
<path d="M-17.10,30.77 A16,16 0 0 1 12.90,37.22" fill="none" stroke="#a4dba4" stroke-width="0.6" vector-effect="non-scaling-stroke"/>
<path d="M-12.55,30.25 A16,16 0 0 1 12.23,48.34" fill="none" stroke="#a4dba4" stroke-width="0.6" vector-effect="non-scaling-stroke"/>
<path d="M-8.19,31.62 A16,16 0 0 1 7.09,58.23" fill="none" stroke="#a4dba4" stroke-width="0.6" vector-effect="non-scaling-stroke"/>
<path d="M-4.76,34.65 A16,16 0 0 1 -1.62,65.18" fill="none" stroke="#a4dba4" stroke-width="0.6" vector-effect="non-scaling-stroke"/>
<path d="M-2.86,38.81 A16,16 0 0 1 -12.41,67.97" fill="none" stroke="#a4dba4" stroke-width="0.6" vector-effect="non-scaling-stroke"/>
<circle cx="13.2" cy="-41.8" r="11" fill="none" stroke="#999" stroke-width="0.7" vector-effect="non-scaling-stroke"/>
<circle cx="-13.4" cy="40.4" r="11" fill="none" stroke="#999" stroke-width="0.7" vector-effect="non-scaling-stroke"/>
<rect x="-24.60" y="-36.30" width="49.20" height="72.60" fill="none" stroke="#e83535" stroke-width="1.2" vector-effect="non-scaling-stroke"/>
<rect x="-48.70" y="-14.40" width="97.40" height="6.80" fill="none" stroke="#3a3a3a" stroke-width="1.2" vector-effect="non-scaling-stroke"/>
<rect x="-48.70" y="-14.40" width="7.20" height="6.80" fill="#ffffff" stroke="#e8e830" stroke-width="1.0" vector-effect="non-scaling-stroke"/>
<rect x="41.50" y="-14.40" width="7.20" height="6.80" fill="#ffffff" stroke="#e8e830" stroke-width="1.0" vector-effect="non-scaling-stroke"/>
<rect x="-48.70" y="7.60" width="97.40" height="6.80" fill="none" stroke="#3a3a3a" stroke-width="1.2" vector-effect="non-scaling-stroke"/>
<rect x="-48.70" y="7.60" width="7.20" height="6.80" fill="#ffffff" stroke="#e8e830" stroke-width="1.0" vector-effect="non-scaling-stroke"/>
<rect x="41.50" y="7.60" width="7.20" height="6.80" fill="#ffffff" stroke="#e8e830" stroke-width="1.0" vector-effect="non-scaling-stroke"/>
<rect x="-18.80" y="-18.80" width="10.30" height="37.60" fill="none" stroke="#2a2a2a" stroke-width="1.3" vector-effect="non-scaling-stroke"/>
<rect x="8.50" y="-18.80" width="10.30" height="37.60" fill="none" stroke="#2a2a2a" stroke-width="1.3" vector-effect="non-scaling-stroke"/>
<line x1="-18.80" y1="-18.60" x2="-8.50" y2="-18.60" stroke="#e83535" stroke-width="2.0" vector-effect="non-scaling-stroke"/>
<line x1="8.50" y1="-18.60" x2="18.80" y2="-18.60" stroke="#e83535" stroke-width="2.0" vector-effect="non-scaling-stroke"/>
<line x1="-18.80" y1="18.30" x2="-8.50" y2="18.30" stroke="#f07070" stroke-width="1.6" vector-effect="non-scaling-stroke"/>
<line x1="8.50" y1="18.30" x2="18.80" y2="18.30" stroke="#e83535" stroke-width="1.8" vector-effect="non-scaling-stroke"/>
<rect x="9.90" y="-53.30" width="6.30" height="34.50" fill="#fff" stroke="#333" stroke-width="1.05" vector-effect="non-scaling-stroke"/>
<rect x="-16.20" y="18.80" width="6.30" height="34.50" fill="#fff" stroke="#333" stroke-width="1.05" vector-effect="non-scaling-stroke"/>
<line x1="13.05" y1="-51.00" x2="13.05" y2="-21.00" stroke="#999" stroke-width="0.6" stroke-dasharray="2,1.5" vector-effect="non-scaling-stroke"/>
<line x1="-13.05" y1="21.00" x2="-13.05" y2="51.00" stroke="#999" stroke-width="0.6" stroke-dasharray="2,1.5" vector-effect="non-scaling-stroke"/>
<circle cx="13" cy="-44" r="2.2" fill="none" stroke="#aaa" stroke-width="0.6" vector-effect="non-scaling-stroke"/>
<circle cx="-13" cy="44" r="2.2" fill="none" stroke="#aaa" stroke-width="0.6" vector-effect="non-scaling-stroke"/>
</g>
<line x1="425.50" y1="85.00" x2="425.50" y2="100.50" stroke="#333" stroke-width="0.9" />
<line x1="424.30" y1="85.20" x2="426.70" y2="85.20" stroke="#333" stroke-width="0.8" />
<line x1="424.30" y1="100.30" x2="426.70" y2="100.30" stroke="#333" stroke-width="0.8" />
<line x1="424.60" y1="91.00" x2="425.50" y2="91.00" stroke="#555" stroke-width="0.8" />
<line x1="424.60" y1="93.50" x2="425.50" y2="93.50" stroke="#555" stroke-width="0.8" />
<rect x="305.5" y="201.9" width="56.4" height="40" rx="7" fill="none" stroke="#c0c8d8" stroke-width="0.8"/>
<line x1="322.00" y1="201.90" x2="346.50" y2="201.90" stroke="#4a78c0" stroke-width="1.4" />
<line x1="322.00" y1="241.90" x2="349.50" y2="241.90" stroke="#4a78c0" stroke-width="1.4" />
<line x1="305.50" y1="208.00" x2="305.50" y2="233.00" stroke="#4a78c0" stroke-width="1.3" />
<line x1="361.90" y1="212.00" x2="361.90" y2="235.00" stroke="#4a78c0" stroke-width="1.3" />
<rect x="327.40" y="210.70" width="18.90" height="6.80" fill="none" stroke="#222" stroke-width="0.9" />
<rect x="329.00" y="212.20" width="7.00" height="3.80" fill="none" stroke="#444" stroke-width="0.6" />
<rect x="337.50" y="212.20" width="7.00" height="3.80" fill="none" stroke="#444" stroke-width="0.6" />
<rect x="327.40" y="219.00" width="18.90" height="6.80" fill="none" stroke="#222" stroke-width="0.9" />
<rect x="329.00" y="220.50" width="7.00" height="3.80" fill="none" stroke="#444" stroke-width="0.6" />
<rect x="337.50" y="220.50" width="7.00" height="3.80" fill="none" stroke="#444" stroke-width="0.6" />
<rect x="327.40" y="227.00" width="18.90" height="6.80" fill="none" stroke="#222" stroke-width="0.9" />
<rect x="329.00" y="228.50" width="7.00" height="3.80" fill="none" stroke="#444" stroke-width="0.6" />
<rect x="337.50" y="228.50" width="7.00" height="3.80" fill="none" stroke="#444" stroke-width="0.6" />
<path d="M317,212.3 L312,212.1 Q308,212.5 308,214.0 Q309,215.3 312,214.7 L317,214.5" fill="#fff" stroke="#888" stroke-width="0.6"/>
<rect x="316.60" y="212.20" width="3.50" height="2.60" fill="#333" stroke="none" stroke-width="0" />
<line x1="310.00" y1="210.30" x2="314.50" y2="210.30" stroke="#333" stroke-width="0.9" />
<path d="M317,229.3 L312,229.1 Q308,229.5 308,231.0 Q309,232.3 312,231.7 L317,231.5" fill="#fff" stroke="#888" stroke-width="0.6"/>
<rect x="316.60" y="229.20" width="3.50" height="2.60" fill="#333" stroke="none" stroke-width="0" />
<line x1="310.00" y1="227.30" x2="314.50" y2="227.30" stroke="#333" stroke-width="0.9" />
<path d="M348,212.5 L354,212.0 Q356.5,213.5 354,214.7 L348,214.5" fill="none" stroke="#777" stroke-width="0.6"/>
<path d="M348,221.5 L354,221.0 Q356.5,222.5 354,223.7 L348,223.5" fill="none" stroke="#777" stroke-width="0.6"/>
<path d="M348,229.5 L354,229.0 Q356.5,230.5 354,231.7 L348,231.5" fill="none" stroke="#777" stroke-width="0.6"/>
<line x1="310.00" y1="219.30" x2="314.50" y2="219.30" stroke="#333" stroke-width="0.9" />
<rect x="306.00" y="221.20" width="14.00" height="2.60" fill="#bbb" stroke="#222" stroke-width="0.7" />
<circle cx="324.3" cy="222.4" r="2.8" fill="none" stroke="#777" stroke-width="0.6" stroke-dasharray="1.2,0.6"/>
<line x1="321.50" y1="222.40" x2="325.00" y2="222.40" stroke="#111" stroke-width="1.0" />
<path d="M324.5,220.6 L327.3,222.4 L324.5,224.2 Z" fill="#111"/>
<circle cx="358" cy="222" r="2.5" fill="none" stroke="#555" stroke-width="0.6"/>
<circle cx="358" cy="222" r="1" fill="#111"/>
<line x1="319.00" y1="197.30" x2="319.00" y2="206.30" stroke="#1a1a1a" stroke-width="1.9" stroke-dasharray="2.2,0.9"/>
<line x1="349.50" y1="197.30" x2="349.50" y2="206.30" stroke="#1a1a1a" stroke-width="1.9" stroke-dasharray="2.2,0.9"/>
<line x1="319.20" y1="234.20" x2="319.20" y2="259.40" stroke="#1a1a1a" stroke-width="1.9" stroke-dasharray="2.2,0.9"/>
<line x1="350.00" y1="234.20" x2="350.00" y2="259.40" stroke="#1a1a1a" stroke-width="1.9" stroke-dasharray="2.2,0.9"/>
<line x1="301.40" y1="208.00" x2="301.40" y2="232.50" stroke="#1a1a1a" stroke-width="1.9" stroke-dasharray="2.2,0.9"/>
<path d="M306,237.5 C301,241 291,243 280,236 M316,241 C306,248 292,248 281.5,238.5" fill="none" stroke="#b4c6e6" stroke-width="0.8"/>
<path d="M277.5,234.5 L282.5,235.8 L280.2,239.2 Z" fill="#aabde4"/>
<text x="367.90" y="220.50" font-family="Liberation Sans" font-size="10" fill="#231f20" text-anchor="start" letter-spacing="0.18" stroke="#231f20" stroke-width="0.35">Фаза–коричневая</text>
<text x="367.90" y="231.90" font-family="Liberation Sans" font-size="10" fill="#231f20" text-anchor="start" letter-spacing="0.18" stroke="#231f20" stroke-width="0.35">Нейтральный провод–Серый</text>
<text x="367.90" y="243.20" font-family="Liberation Sans" font-size="10" fill="#231f20" text-anchor="start" letter-spacing="0.18" stroke="#231f20" stroke-width="0.35">Заземление –Желтое</text>
<g transform="translate(179.8,357.8)">
<circle cx="13.30" cy="-42.40" r="26.80" fill="none" stroke="#78cc78" stroke-width="0.75" vector-effect="non-scaling-stroke"/>
<path d="M24.08,-40.21 A16,16 0 0 1 3.50,-17.46" fill="none" stroke="#a4dba4" stroke-width="0.6" vector-effect="non-scaling-stroke"/>
<path d="M22.26,-36.02 A16,16 0 0 1 -5.80,-23.60" fill="none" stroke="#a4dba4" stroke-width="0.6" vector-effect="non-scaling-stroke"/>
<path d="M18.89,-32.93 A16,16 0 0 1 -11.80,-33.00" fill="none" stroke="#a4dba4" stroke-width="0.6" vector-effect="non-scaling-stroke"/>
<path d="M14.55,-31.47 A16,16 0 0 1 -13.45,-44.02" fill="none" stroke="#a4dba4" stroke-width="0.6" vector-effect="non-scaling-stroke"/>
<path d="M10.00,-31.91 A16,16 0 0 1 -10.48,-54.76" fill="none" stroke="#a4dba4" stroke-width="0.6" vector-effect="non-scaling-stroke"/>
<path d="M6.02,-34.16 A16,16 0 0 1 -3.40,-63.36" fill="none" stroke="#a4dba4" stroke-width="0.6" vector-effect="non-scaling-stroke"/>
<path d="M3.29,-37.83 A16,16 0 0 1 6.57,-68.34" fill="none" stroke="#a4dba4" stroke-width="0.6" vector-effect="non-scaling-stroke"/>
<path d="M2.30,-42.30 A16,16 0 0 1 17.70,-68.84" fill="none" stroke="#a4dba4" stroke-width="0.6" vector-effect="non-scaling-stroke"/>
<path d="M3.21,-46.78 A16,16 0 0 1 28.08,-64.76" fill="none" stroke="#a4dba4" stroke-width="0.6" vector-effect="non-scaling-stroke"/>
<path d="M5.86,-50.50 A16,16 0 0 1 35.89,-56.82" fill="none" stroke="#a4dba4" stroke-width="0.6" vector-effect="non-scaling-stroke"/>
<path d="M9.80,-52.83 A16,16 0 0 1 39.80,-46.38" fill="none" stroke="#a4dba4" stroke-width="0.6" vector-effect="non-scaling-stroke"/>
<path d="M14.35,-53.35 A16,16 0 0 1 39.13,-35.26" fill="none" stroke="#a4dba4" stroke-width="0.6" vector-effect="non-scaling-stroke"/>
<path d="M18.71,-51.98 A16,16 0 0 1 33.99,-25.37" fill="none" stroke="#a4dba4" stroke-width="0.6" vector-effect="non-scaling-stroke"/>
<path d="M22.14,-48.95 A16,16 0 0 1 25.28,-18.42" fill="none" stroke="#a4dba4" stroke-width="0.6" vector-effect="non-scaling-stroke"/>
<path d="M24.04,-44.79 A16,16 0 0 1 14.49,-15.63" fill="none" stroke="#a4dba4" stroke-width="0.6" vector-effect="non-scaling-stroke"/>
<circle cx="-13.60" cy="41.20" r="26.80" fill="none" stroke="#78cc78" stroke-width="0.75" vector-effect="non-scaling-stroke"/>
<path d="M-2.82,43.39 A16,16 0 0 1 -23.40,66.14" fill="none" stroke="#a4dba4" stroke-width="0.6" vector-effect="non-scaling-stroke"/>
<path d="M-4.64,47.58 A16,16 0 0 1 -32.70,60.00" fill="none" stroke="#a4dba4" stroke-width="0.6" vector-effect="non-scaling-stroke"/>
<path d="M-8.01,50.67 A16,16 0 0 1 -38.70,50.60" fill="none" stroke="#a4dba4" stroke-width="0.6" vector-effect="non-scaling-stroke"/>
<path d="M-12.35,52.13 A16,16 0 0 1 -40.35,39.58" fill="none" stroke="#a4dba4" stroke-width="0.6" vector-effect="non-scaling-stroke"/>
<path d="M-16.90,51.69 A16,16 0 0 1 -37.38,28.84" fill="none" stroke="#a4dba4" stroke-width="0.6" vector-effect="non-scaling-stroke"/>
<path d="M-20.88,49.44 A16,16 0 0 1 -30.30,20.24" fill="none" stroke="#a4dba4" stroke-width="0.6" vector-effect="non-scaling-stroke"/>
<path d="M-23.61,45.77 A16,16 0 0 1 -20.33,15.26" fill="none" stroke="#a4dba4" stroke-width="0.6" vector-effect="non-scaling-stroke"/>
<path d="M-24.60,41.30 A16,16 0 0 1 -9.20,14.76" fill="none" stroke="#a4dba4" stroke-width="0.6" vector-effect="non-scaling-stroke"/>
<path d="M-23.69,36.82 A16,16 0 0 1 1.18,18.84" fill="none" stroke="#a4dba4" stroke-width="0.6" vector-effect="non-scaling-stroke"/>
<path d="M-21.04,33.10 A16,16 0 0 1 8.99,26.78" fill="none" stroke="#a4dba4" stroke-width="0.6" vector-effect="non-scaling-stroke"/>
<path d="M-17.10,30.77 A16,16 0 0 1 12.90,37.22" fill="none" stroke="#a4dba4" stroke-width="0.6" vector-effect="non-scaling-stroke"/>
<path d="M-12.55,30.25 A16,16 0 0 1 12.23,48.34" fill="none" stroke="#a4dba4" stroke-width="0.6" vector-effect="non-scaling-stroke"/>
<path d="M-8.19,31.62 A16,16 0 0 1 7.09,58.23" fill="none" stroke="#a4dba4" stroke-width="0.6" vector-effect="non-scaling-stroke"/>
<path d="M-4.76,34.65 A16,16 0 0 1 -1.62,65.18" fill="none" stroke="#a4dba4" stroke-width="0.6" vector-effect="non-scaling-stroke"/>
<path d="M-2.86,38.81 A16,16 0 0 1 -12.41,67.97" fill="none" stroke="#a4dba4" stroke-width="0.6" vector-effect="non-scaling-stroke"/>
<circle cx="13.2" cy="-41.8" r="11" fill="none" stroke="#999" stroke-width="0.7" vector-effect="non-scaling-stroke"/>
<circle cx="-13.4" cy="40.4" r="11" fill="none" stroke="#999" stroke-width="0.7" vector-effect="non-scaling-stroke"/>
<rect x="-24.60" y="-36.30" width="49.20" height="72.60" fill="none" stroke="#e83535" stroke-width="1.2" vector-effect="non-scaling-stroke"/>
<rect x="-48.70" y="-14.40" width="97.40" height="6.80" fill="none" stroke="#3a3a3a" stroke-width="1.2" vector-effect="non-scaling-stroke"/>
<rect x="-48.70" y="-14.40" width="7.20" height="6.80" fill="#ffffff" stroke="#e8e830" stroke-width="1.0" vector-effect="non-scaling-stroke"/>
<rect x="41.50" y="-14.40" width="7.20" height="6.80" fill="#ffffff" stroke="#e8e830" stroke-width="1.0" vector-effect="non-scaling-stroke"/>
<rect x="-48.70" y="7.60" width="97.40" height="6.80" fill="none" stroke="#3a3a3a" stroke-width="1.2" vector-effect="non-scaling-stroke"/>
<rect x="-48.70" y="7.60" width="7.20" height="6.80" fill="#ffffff" stroke="#e8e830" stroke-width="1.0" vector-effect="non-scaling-stroke"/>
<rect x="41.50" y="7.60" width="7.20" height="6.80" fill="#ffffff" stroke="#e8e830" stroke-width="1.0" vector-effect="non-scaling-stroke"/>
<rect x="-18.80" y="-18.80" width="10.30" height="37.60" fill="none" stroke="#2a2a2a" stroke-width="1.3" vector-effect="non-scaling-stroke"/>
<rect x="8.50" y="-18.80" width="10.30" height="37.60" fill="none" stroke="#2a2a2a" stroke-width="1.3" vector-effect="non-scaling-stroke"/>
<line x1="-18.80" y1="-18.60" x2="-8.50" y2="-18.60" stroke="#e83535" stroke-width="2.0" vector-effect="non-scaling-stroke"/>
<line x1="8.50" y1="-18.60" x2="18.80" y2="-18.60" stroke="#e83535" stroke-width="2.0" vector-effect="non-scaling-stroke"/>
<line x1="-18.80" y1="18.30" x2="-8.50" y2="18.30" stroke="#f07070" stroke-width="1.6" vector-effect="non-scaling-stroke"/>
<line x1="8.50" y1="18.30" x2="18.80" y2="18.30" stroke="#e83535" stroke-width="1.8" vector-effect="non-scaling-stroke"/>
<rect x="9.90" y="-53.30" width="6.30" height="34.50" fill="#fff" stroke="#333" stroke-width="1.05" vector-effect="non-scaling-stroke"/>
<rect x="-16.20" y="18.80" width="6.30" height="34.50" fill="#fff" stroke="#333" stroke-width="1.05" vector-effect="non-scaling-stroke"/>
<line x1="13.05" y1="-51.00" x2="13.05" y2="-21.00" stroke="#999" stroke-width="0.6" stroke-dasharray="2,1.5" vector-effect="non-scaling-stroke"/>
<line x1="-13.05" y1="21.00" x2="-13.05" y2="51.00" stroke="#999" stroke-width="0.6" stroke-dasharray="2,1.5" vector-effect="non-scaling-stroke"/>
<circle cx="13" cy="-44" r="2.2" fill="none" stroke="#aaa" stroke-width="0.6" vector-effect="non-scaling-stroke"/>
<circle cx="-13" cy="44" r="2.2" fill="none" stroke="#aaa" stroke-width="0.6" vector-effect="non-scaling-stroke"/>
</g>
<path d="M155.5,321.6 L155.5,276.3 L204.5,276.3 L204.5,321.6" fill="none" stroke="#d050a8" stroke-width="0.9"/>
<text transform="translate(179.50,276.40) scale(0.9,1.0)" x="0" y="0" font-family="Liberation Serif" font-size="11.5" fill="#d050a8" text-anchor="middle" >100</text>
<line x1="117.60" y1="305.00" x2="117.60" y2="410.50" stroke="#d050a8" stroke-width="1" />
<line x1="116.00" y1="305.00" x2="119.20" y2="305.00" stroke="#d050a8" stroke-width="1" />
<line x1="116.00" y1="410.50" x2="119.20" y2="410.50" stroke="#d050a8" stroke-width="1" />
<text transform="translate(113.30,357.60) rotate(-90) scale(0.88,1)" x="0" y="3.96" font-family="Liberation Serif" font-size="12" fill="#d050a8" text-anchor="middle" >219</text>
<line x1="234.30" y1="321.60" x2="234.30" y2="394.40" stroke="#d050a8" stroke-width="1" />
<line x1="232.50" y1="321.60" x2="235.50" y2="321.60" stroke="#d050a8" stroke-width="1" />
<line x1="232.50" y1="394.40" x2="235.50" y2="394.40" stroke="#d050a8" stroke-width="1" />
<text transform="translate(230.80,356.90) rotate(-90) scale(0.83,1)" x="0" y="3.63" font-family="Liberation Serif" font-size="11" fill="#d050a8" text-anchor="middle" >150</text>
<line x1="248.50" y1="289.00" x2="248.50" y2="425.00" stroke="#222" stroke-width="1" />
<line x1="246.90" y1="289.00" x2="250.10" y2="289.00" stroke="#222" stroke-width="1" />
<line x1="246.90" y1="425.00" x2="250.10" y2="425.00" stroke="#222" stroke-width="1" />
<text transform="translate(244.40,357.50) rotate(-90) scale(1.0,1)" x="0" y="3.80" font-family="Liberation Serif" font-size="11.5" fill="#222" text-anchor="middle" >260</text>
<text transform="translate(180.00,356.20) rotate(-90) scale(1.0,1)" x="0" y="2.97" font-family="Liberation Serif" font-size="9" fill="#e6e600" text-anchor="middle" >45</text>
<path d="M183.5,347 Q186,357 183.5,368" fill="none" stroke="#e6e600" stroke-width="1"/>
<circle cx="179" cy="346.5" r="3" fill="none" stroke="#f09090" stroke-width="0.6" stroke-dasharray="1,1"/>
<circle cx="179" cy="368" r="3" fill="none" stroke="#f09090" stroke-width="0.6" stroke-dasharray="1,1"/>
<line x1="345.80" y1="296.20" x2="442.70" y2="296.20" stroke="#222" stroke-width="1" />
<line x1="345.80" y1="294.50" x2="345.80" y2="298.00" stroke="#222" stroke-width="1" />
<line x1="442.70" y1="294.50" x2="442.70" y2="298.00" stroke="#222" stroke-width="1" />
<text transform="translate(394.40,295.90) scale(0.93,1.0)" x="0" y="0" font-family="Liberation Serif" font-size="11.8" fill="#222" text-anchor="middle" >200</text>
<rect x="370.30" y="308.40" width="48.00" height="12.40" fill="none" stroke="#2a2a2a" stroke-width="1.2" />
<rect x="391.70" y="320.70" width="6.00" height="23.50" fill="none" stroke="#2a2a2a" stroke-width="1.0" />
<line x1="391.70" y1="339.30" x2="397.70" y2="339.30" stroke="#2a2a2a" stroke-width="0.8" />
<line x1="391.70" y1="341.30" x2="397.70" y2="341.30" stroke="#2a2a2a" stroke-width="0.8" />
<line x1="405.30" y1="308.30" x2="405.30" y2="340.30" stroke="#d050a8" stroke-width="0.9" />
<line x1="403.60" y1="340.30" x2="407.00" y2="340.30" stroke="#d050a8" stroke-width="0.9" />
<text transform="translate(401.80,324.50) rotate(-90) scale(1.0,1)" x="0" y="2.97" font-family="Liberation Serif" font-size="9" fill="#d050a8" text-anchor="middle" >65</text>
<path d="M349.51,327.84 A65.6,65.6 0 0 0 439.49,327.84 L442.71,331.26 A70.3,70.3 0 0 1 346.29,331.26 Z" fill="#fff" stroke="#555" stroke-width="0.9"/>
<path d="M347.50,329.11 A67.9,67.9 0 0 0 441.50,329.11" fill="none" stroke="#f0a060" stroke-width="0.6"/>
<line x1="379.50" y1="348.30" x2="384.00" y2="348.30" stroke="#e83535" stroke-width="1" />
<line x1="381.70" y1="346.00" x2="381.70" y2="350.60" stroke="#e83535" stroke-width="1" />
<circle cx="407.5" cy="348" r="0.9" fill="#d07050"/>
<circle cx="377.00" cy="390.50" r="25.50" fill="none" stroke="#98d898" stroke-width="0.65"/>
<path d="M377.00,416.00 L375.36,415.95 L373.74,415.79 L372.15,415.53 L370.60,415.18 L369.09,414.74 L367.62,414.21 L366.20,413.60 L364.83,412.91 L363.52,412.14 L362.34,411.31 L361.22,410.41 L360.17,409.44 L359.18,408.42 L358.26,407.34 L357.40,406.22 L356.60,405.05 L355.87,403.83 L355.20,402.58 L354.59,401.30 L354.05,399.99 L353.57,398.65 L353.16,397.29 L352.81,395.91 L352.52,394.52 L352.30,393.13 L352.14,391.73 L352.04,390.32 L352.01,388.93 L352.05,387.54 L352.14,386.16 L352.30,384.80 L352.52,383.45 L352.91,382.14 L353.40,380.85 L353.95,379.59 L354.57,378.37 L355.25,377.20 L355.98,376.06 L356.77,374.98 L357.60,373.95 L358.48,372.98 L359.38,372.06 L360.31,371.22 L361.25,370.44 L362.19,369.74 L363.11,369.12 L363.98,368.58 L364.77,368.12" fill="none" stroke="#98d898" stroke-width="0.65"/>
<path d="M377.00,416.00 L375.54,415.82 L374.13,415.55 L372.78,415.18 L371.47,414.74 L370.23,414.21 L369.03,413.60 L367.89,412.92 L366.80,412.17 L365.76,411.35 L364.78,410.47 L363.85,409.53 L362.97,408.53 L362.15,407.48 L361.38,406.39 L360.66,405.25 L360.00,404.07 L359.38,402.85 L358.82,401.60 L358.32,400.32 L357.87,399.01 L357.47,397.69 L357.12,396.34 L356.83,394.98 L356.58,393.61 L356.40,392.23 L356.26,390.85 L356.18,389.47 L356.15,388.09 L356.18,386.72 L356.25,385.37 L356.38,384.03 L356.56,382.70 L356.80,381.40 L357.09,380.13 L357.43,378.89 L357.82,377.68 L358.27,376.51 L358.77,375.38 L359.32,374.29 L359.93,373.26 L360.59,372.27 L361.30,371.35 L362.07,370.48 L362.88,369.68 L363.75,368.94 L364.68,368.28 L365.65,367.69 L366.68,367.18" fill="none" stroke="#98d898" stroke-width="0.65"/>
<path d="M377.00,416.00 L375.83,415.69 L374.70,415.30 L373.62,414.83 L372.58,414.29 L371.58,413.67 L370.62,412.99 L369.71,412.24 L368.84,411.43 L368.01,410.55 L367.22,409.63 L366.48,408.65 L365.78,407.62 L365.12,406.55 L364.50,405.44 L363.93,404.28 L363.39,403.09 L362.90,401.87 L362.46,400.62 L362.05,399.35 L361.69,398.05 L361.37,396.74 L361.09,395.41 L360.85,394.07 L360.66,392.72 L360.51,391.36 L360.40,390.00 L360.33,388.64 L360.30,387.29 L360.32,385.95 L360.38,384.62 L360.48,383.30 L360.63,382.00 L360.81,380.72 L361.04,379.47 L361.31,378.24 L361.62,377.05 L361.98,375.89 L362.37,374.77 L362.81,373.69 L363.29,372.66 L363.82,371.67 L364.38,370.74 L364.99,369.86 L365.64,369.04 L366.33,368.28 L367.06,367.58 L367.84,366.96 L368.66,366.40" fill="none" stroke="#98d898" stroke-width="0.65"/>
<path d="M377.00,416.00 L376.12,415.56 L375.28,415.06 L374.47,414.48 L373.68,413.84 L372.94,413.14 L372.22,412.38 L371.53,411.56 L370.88,410.69 L370.26,409.76 L369.67,408.79 L369.11,407.77 L368.58,406.72 L368.09,405.62 L367.62,404.49 L367.19,403.32 L366.79,402.13 L366.43,400.90 L366.09,399.66 L365.78,398.39 L365.51,397.11 L365.27,395.81 L365.06,394.49 L364.88,393.17 L364.74,391.84 L364.62,390.51 L364.54,389.18 L364.49,387.85 L364.47,386.53 L364.48,385.21 L364.52,383.91 L364.60,382.62 L364.70,381.35 L364.84,380.10 L365.01,378.87 L365.21,377.67 L365.45,376.49 L365.71,375.35 L366.01,374.25 L366.33,373.18 L366.69,372.16 L367.08,371.18 L367.50,370.24 L367.96,369.36 L368.44,368.53 L368.96,367.75 L369.50,367.04 L370.08,366.38 L370.69,365.79" fill="none" stroke="#98d898" stroke-width="0.65"/>
<path d="M377.00,416.00 L376.42,415.44 L375.85,414.81 L375.31,414.13 L374.79,413.40 L374.29,412.61 L373.81,411.77 L373.36,410.88 L372.92,409.95 L372.50,408.97 L372.11,407.95 L371.74,406.90 L371.39,405.81 L371.06,404.69 L370.75,403.54 L370.46,402.37 L370.19,401.17 L369.95,399.94 L369.72,398.70 L369.52,397.44 L369.34,396.17 L369.18,394.89 L369.04,393.59 L368.92,392.29 L368.82,390.99 L368.74,389.69 L368.69,388.38 L368.65,387.09 L368.64,385.79 L368.65,384.51 L368.68,383.24 L368.73,381.98 L368.80,380.74 L368.89,379.53 L369.00,378.33 L369.13,377.16 L369.29,376.01 L369.46,374.90 L369.66,373.81 L369.87,372.77 L370.11,371.76 L370.37,370.79 L370.65,369.86 L370.95,368.98 L371.27,368.15 L371.62,367.37 L371.98,366.64 L372.36,365.97 L372.77,365.35" fill="none" stroke="#98d898" stroke-width="0.65"/>
<path d="M377.00,416.00 L376.71,415.31 L376.43,414.57 L376.16,413.78 L375.89,412.95 L375.65,412.07 L375.41,411.16 L375.18,410.20 L374.96,409.21 L374.75,408.18 L374.56,407.12 L374.37,406.03 L374.19,404.91 L374.03,403.77 L373.87,402.60 L373.73,401.42 L373.60,400.21 L373.47,398.99 L373.36,397.75 L373.26,396.51 L373.17,395.25 L373.09,393.98 L373.02,392.71 L372.96,391.44 L372.91,390.16 L372.87,388.89 L372.84,387.62 L372.83,386.35 L372.82,385.10 L372.82,383.85 L372.84,382.62 L372.86,381.40 L372.90,380.19 L372.94,379.01 L373.00,377.85 L373.06,376.71 L373.14,375.60 L373.23,374.52 L373.33,373.46 L373.43,372.44 L373.55,371.46 L373.68,370.51 L373.82,369.60 L373.97,368.73 L374.13,367.90 L374.30,367.13 L374.48,366.40 L374.68,365.72 L374.88,365.09" fill="none" stroke="#98d898" stroke-width="0.65"/>
<path d="M377.00,416.00 L377.00,415.18 L377.00,414.33 L377.00,413.43 L377.00,412.50 L377.00,411.54 L377.00,410.55 L377.00,409.52 L377.00,408.47 L377.00,407.39 L377.00,406.29 L377.00,405.16 L377.00,404.01 L377.00,402.85 L377.00,401.67 L377.00,400.47 L377.00,399.26 L377.00,398.04 L377.00,396.82 L377.00,395.58 L377.00,394.34 L377.00,393.09 L377.00,391.84 L377.00,390.60 L377.00,389.35 L377.00,388.11 L377.00,386.88 L377.00,385.65 L377.00,384.43 L377.00,383.23 L377.00,382.03 L377.00,380.86 L377.00,379.70 L377.00,378.55 L377.00,377.43 L377.00,376.34 L377.00,375.26 L377.00,374.22 L377.00,373.20 L377.00,372.21 L377.00,371.26 L377.00,370.34 L377.00,369.45 L377.00,368.60 L377.00,367.80 L377.00,367.03 L377.00,366.31 L377.00,365.63 L377.00,365.00" fill="none" stroke="#98d898" stroke-width="0.65"/>
<path d="M377.00,416.00 L377.29,415.31 L377.57,414.57 L377.84,413.78 L378.11,412.95 L378.35,412.07 L378.59,411.16 L378.82,410.20 L379.04,409.21 L379.25,408.18 L379.44,407.12 L379.63,406.03 L379.81,404.91 L379.97,403.77 L380.13,402.60 L380.27,401.42 L380.40,400.21 L380.53,398.99 L380.64,397.75 L380.74,396.51 L380.83,395.25 L380.91,393.98 L380.98,392.71 L381.04,391.44 L381.09,390.16 L381.13,388.89 L381.16,387.62 L381.17,386.35 L381.18,385.10 L381.18,383.85 L381.16,382.62 L381.14,381.40 L381.10,380.19 L381.06,379.01 L381.00,377.85 L380.94,376.71 L380.86,375.60 L380.77,374.52 L380.67,373.46 L380.57,372.44 L380.45,371.46 L380.32,370.51 L380.18,369.60 L380.03,368.73 L379.87,367.90 L379.70,367.13 L379.52,366.40 L379.32,365.72 L379.12,365.09" fill="none" stroke="#98d898" stroke-width="0.65"/>
<path d="M377.00,416.00 L377.58,415.44 L378.15,414.81 L378.69,414.13 L379.21,413.40 L379.71,412.61 L380.19,411.77 L380.64,410.88 L381.08,409.95 L381.50,408.97 L381.89,407.95 L382.26,406.90 L382.61,405.81 L382.94,404.69 L383.25,403.54 L383.54,402.37 L383.81,401.17 L384.05,399.94 L384.28,398.70 L384.48,397.44 L384.66,396.17 L384.82,394.89 L384.96,393.59 L385.08,392.29 L385.18,390.99 L385.26,389.69 L385.31,388.38 L385.35,387.09 L385.36,385.79 L385.35,384.51 L385.32,383.24 L385.27,381.98 L385.20,380.74 L385.11,379.53 L385.00,378.33 L384.87,377.16 L384.71,376.01 L384.54,374.90 L384.34,373.81 L384.13,372.77 L383.89,371.76 L383.63,370.79 L383.35,369.86 L383.05,368.98 L382.73,368.15 L382.38,367.37 L382.02,366.64 L381.64,365.97 L381.23,365.35" fill="none" stroke="#98d898" stroke-width="0.65"/>
<path d="M377.00,416.00 L377.88,415.56 L378.72,415.06 L379.53,414.48 L380.32,413.84 L381.06,413.14 L381.78,412.38 L382.47,411.56 L383.12,410.69 L383.74,409.76 L384.33,408.79 L384.89,407.77 L385.42,406.72 L385.91,405.62 L386.38,404.49 L386.81,403.32 L387.21,402.13 L387.57,400.90 L387.91,399.66 L388.22,398.39 L388.49,397.11 L388.73,395.81 L388.94,394.49 L389.12,393.17 L389.26,391.84 L389.38,390.51 L389.46,389.18 L389.51,387.85 L389.53,386.53 L389.52,385.21 L389.48,383.91 L389.40,382.62 L389.30,381.35 L389.16,380.10 L388.99,378.87 L388.79,377.67 L388.55,376.49 L388.29,375.35 L387.99,374.25 L387.67,373.18 L387.31,372.16 L386.92,371.18 L386.50,370.24 L386.04,369.36 L385.56,368.53 L385.04,367.75 L384.50,367.04 L383.92,366.38 L383.31,365.79" fill="none" stroke="#98d898" stroke-width="0.65"/>
<path d="M377.00,416.00 L378.17,415.69 L379.30,415.30 L380.38,414.83 L381.42,414.29 L382.42,413.67 L383.38,412.99 L384.29,412.24 L385.16,411.43 L385.99,410.55 L386.78,409.63 L387.52,408.65 L388.22,407.62 L388.88,406.55 L389.50,405.44 L390.07,404.28 L390.61,403.09 L391.10,401.87 L391.54,400.62 L391.95,399.35 L392.31,398.05 L392.63,396.74 L392.91,395.41 L393.15,394.07 L393.34,392.72 L393.49,391.36 L393.60,390.00 L393.67,388.64 L393.70,387.29 L393.68,385.95 L393.62,384.62 L393.52,383.30 L393.37,382.00 L393.19,380.72 L392.96,379.47 L392.69,378.24 L392.38,377.05 L392.02,375.89 L391.63,374.77 L391.19,373.69 L390.71,372.66 L390.18,371.67 L389.62,370.74 L389.01,369.86 L388.36,369.04 L387.67,368.28 L386.94,367.58 L386.16,366.96 L385.34,366.40" fill="none" stroke="#98d898" stroke-width="0.65"/>
<path d="M377.00,416.00 L378.46,415.82 L379.87,415.55 L381.22,415.18 L382.53,414.74 L383.77,414.21 L384.97,413.60 L386.11,412.92 L387.20,412.17 L388.24,411.35 L389.22,410.47 L390.15,409.53 L391.03,408.53 L391.85,407.48 L392.62,406.39 L393.34,405.25 L394.00,404.07 L394.62,402.85 L395.18,401.60 L395.68,400.32 L396.13,399.01 L396.53,397.69 L396.88,396.34 L397.17,394.98 L397.42,393.61 L397.60,392.23 L397.74,390.85 L397.82,389.47 L397.85,388.09 L397.82,386.72 L397.75,385.37 L397.62,384.03 L397.44,382.70 L397.20,381.40 L396.91,380.13 L396.57,378.89 L396.18,377.68 L395.73,376.51 L395.23,375.38 L394.68,374.29 L394.07,373.26 L393.41,372.27 L392.70,371.35 L391.93,370.48 L391.12,369.68 L390.25,368.94 L389.32,368.28 L388.35,367.69 L387.32,367.18" fill="none" stroke="#98d898" stroke-width="0.65"/>
<path d="M377.00,416.00 L378.64,415.95 L380.26,415.79 L381.85,415.53 L383.40,415.18 L384.91,414.74 L386.38,414.21 L387.80,413.60 L389.17,412.91 L390.48,412.14 L391.66,411.31 L392.78,410.41 L393.83,409.44 L394.82,408.42 L395.74,407.34 L396.60,406.22 L397.40,405.05 L398.13,403.83 L398.80,402.58 L399.41,401.30 L399.95,399.99 L400.43,398.65 L400.84,397.29 L401.19,395.91 L401.48,394.52 L401.70,393.13 L401.86,391.73 L401.96,390.32 L401.99,388.93 L401.95,387.54 L401.86,386.16 L401.70,384.80 L401.48,383.45 L401.09,382.14 L400.60,380.85 L400.05,379.59 L399.43,378.37 L398.75,377.20 L398.02,376.06 L397.23,374.98 L396.40,373.95 L395.52,372.98 L394.62,372.06 L393.69,371.22 L392.75,370.44 L391.81,369.74 L390.89,369.12 L390.02,368.58 L389.23,368.12" fill="none" stroke="#98d898" stroke-width="0.65"/>
<circle cx="411.00" cy="390.50" r="25.50" fill="none" stroke="#98d898" stroke-width="0.65"/>
<path d="M411.00,416.00 L409.36,415.95 L407.74,415.79 L406.15,415.53 L404.60,415.18 L403.09,414.74 L401.62,414.21 L400.20,413.60 L398.83,412.91 L397.52,412.14 L396.34,411.31 L395.22,410.41 L394.17,409.44 L393.18,408.42 L392.26,407.34 L391.40,406.22 L390.60,405.05 L389.87,403.83 L389.20,402.58 L388.59,401.30 L388.05,399.99 L387.57,398.65 L387.16,397.29 L386.81,395.91 L386.52,394.52 L386.30,393.13 L386.14,391.73 L386.04,390.32 L386.01,388.93 L386.05,387.54 L386.14,386.16 L386.30,384.80 L386.52,383.45 L386.91,382.14 L387.40,380.85 L387.95,379.59 L388.57,378.37 L389.25,377.20 L389.98,376.06 L390.77,374.98 L391.60,373.95 L392.48,372.98 L393.38,372.06 L394.31,371.22 L395.25,370.44 L396.19,369.74 L397.11,369.12 L397.98,368.58 L398.77,368.12" fill="none" stroke="#98d898" stroke-width="0.65"/>
<path d="M411.00,416.00 L409.54,415.82 L408.13,415.55 L406.78,415.18 L405.47,414.74 L404.23,414.21 L403.03,413.60 L401.89,412.92 L400.80,412.17 L399.76,411.35 L398.78,410.47 L397.85,409.53 L396.97,408.53 L396.15,407.48 L395.38,406.39 L394.66,405.25 L394.00,404.07 L393.38,402.85 L392.82,401.60 L392.32,400.32 L391.87,399.01 L391.47,397.69 L391.12,396.34 L390.83,394.98 L390.58,393.61 L390.40,392.23 L390.26,390.85 L390.18,389.47 L390.15,388.09 L390.18,386.72 L390.25,385.37 L390.38,384.03 L390.56,382.70 L390.80,381.40 L391.09,380.13 L391.43,378.89 L391.82,377.68 L392.27,376.51 L392.77,375.38 L393.32,374.29 L393.93,373.26 L394.59,372.27 L395.30,371.35 L396.07,370.48 L396.88,369.68 L397.75,368.94 L398.68,368.28 L399.65,367.69 L400.68,367.18" fill="none" stroke="#98d898" stroke-width="0.65"/>
<path d="M411.00,416.00 L409.83,415.69 L408.70,415.30 L407.62,414.83 L406.58,414.29 L405.58,413.67 L404.62,412.99 L403.71,412.24 L402.84,411.43 L402.01,410.55 L401.22,409.63 L400.48,408.65 L399.78,407.62 L399.12,406.55 L398.50,405.44 L397.93,404.28 L397.39,403.09 L396.90,401.87 L396.46,400.62 L396.05,399.35 L395.69,398.05 L395.37,396.74 L395.09,395.41 L394.85,394.07 L394.66,392.72 L394.51,391.36 L394.40,390.00 L394.33,388.64 L394.30,387.29 L394.32,385.95 L394.38,384.62 L394.48,383.30 L394.63,382.00 L394.81,380.72 L395.04,379.47 L395.31,378.24 L395.62,377.05 L395.98,375.89 L396.37,374.77 L396.81,373.69 L397.29,372.66 L397.82,371.67 L398.38,370.74 L398.99,369.86 L399.64,369.04 L400.33,368.28 L401.06,367.58 L401.84,366.96 L402.66,366.40" fill="none" stroke="#98d898" stroke-width="0.65"/>
<path d="M411.00,416.00 L410.12,415.56 L409.28,415.06 L408.47,414.48 L407.68,413.84 L406.94,413.14 L406.22,412.38 L405.53,411.56 L404.88,410.69 L404.26,409.76 L403.67,408.79 L403.11,407.77 L402.58,406.72 L402.09,405.62 L401.62,404.49 L401.19,403.32 L400.79,402.13 L400.43,400.90 L400.09,399.66 L399.78,398.39 L399.51,397.11 L399.27,395.81 L399.06,394.49 L398.88,393.17 L398.74,391.84 L398.62,390.51 L398.54,389.18 L398.49,387.85 L398.47,386.53 L398.48,385.21 L398.52,383.91 L398.60,382.62 L398.70,381.35 L398.84,380.10 L399.01,378.87 L399.21,377.67 L399.45,376.49 L399.71,375.35 L400.01,374.25 L400.33,373.18 L400.69,372.16 L401.08,371.18 L401.50,370.24 L401.96,369.36 L402.44,368.53 L402.96,367.75 L403.50,367.04 L404.08,366.38 L404.69,365.79" fill="none" stroke="#98d898" stroke-width="0.65"/>
<path d="M411.00,416.00 L410.42,415.44 L409.85,414.81 L409.31,414.13 L408.79,413.40 L408.29,412.61 L407.81,411.77 L407.36,410.88 L406.92,409.95 L406.50,408.97 L406.11,407.95 L405.74,406.90 L405.39,405.81 L405.06,404.69 L404.75,403.54 L404.46,402.37 L404.19,401.17 L403.95,399.94 L403.72,398.70 L403.52,397.44 L403.34,396.17 L403.18,394.89 L403.04,393.59 L402.92,392.29 L402.82,390.99 L402.74,389.69 L402.69,388.38 L402.65,387.09 L402.64,385.79 L402.65,384.51 L402.68,383.24 L402.73,381.98 L402.80,380.74 L402.89,379.53 L403.00,378.33 L403.13,377.16 L403.29,376.01 L403.46,374.90 L403.66,373.81 L403.87,372.77 L404.11,371.76 L404.37,370.79 L404.65,369.86 L404.95,368.98 L405.27,368.15 L405.62,367.37 L405.98,366.64 L406.36,365.97 L406.77,365.35" fill="none" stroke="#98d898" stroke-width="0.65"/>
<path d="M411.00,416.00 L410.71,415.31 L410.43,414.57 L410.16,413.78 L409.89,412.95 L409.65,412.07 L409.41,411.16 L409.18,410.20 L408.96,409.21 L408.75,408.18 L408.56,407.12 L408.37,406.03 L408.19,404.91 L408.03,403.77 L407.87,402.60 L407.73,401.42 L407.60,400.21 L407.47,398.99 L407.36,397.75 L407.26,396.51 L407.17,395.25 L407.09,393.98 L407.02,392.71 L406.96,391.44 L406.91,390.16 L406.87,388.89 L406.84,387.62 L406.83,386.35 L406.82,385.10 L406.82,383.85 L406.84,382.62 L406.86,381.40 L406.90,380.19 L406.94,379.01 L407.00,377.85 L407.06,376.71 L407.14,375.60 L407.23,374.52 L407.33,373.46 L407.43,372.44 L407.55,371.46 L407.68,370.51 L407.82,369.60 L407.97,368.73 L408.13,367.90 L408.30,367.13 L408.48,366.40 L408.68,365.72 L408.88,365.09" fill="none" stroke="#98d898" stroke-width="0.65"/>
<path d="M411.00,416.00 L411.00,415.18 L411.00,414.33 L411.00,413.43 L411.00,412.50 L411.00,411.54 L411.00,410.55 L411.00,409.52 L411.00,408.47 L411.00,407.39 L411.00,406.29 L411.00,405.16 L411.00,404.01 L411.00,402.85 L411.00,401.67 L411.00,400.47 L411.00,399.26 L411.00,398.04 L411.00,396.82 L411.00,395.58 L411.00,394.34 L411.00,393.09 L411.00,391.84 L411.00,390.60 L411.00,389.35 L411.00,388.11 L411.00,386.88 L411.00,385.65 L411.00,384.43 L411.00,383.23 L411.00,382.03 L411.00,380.86 L411.00,379.70 L411.00,378.55 L411.00,377.43 L411.00,376.34 L411.00,375.26 L411.00,374.22 L411.00,373.20 L411.00,372.21 L411.00,371.26 L411.00,370.34 L411.00,369.45 L411.00,368.60 L411.00,367.80 L411.00,367.03 L411.00,366.31 L411.00,365.63 L411.00,365.00" fill="none" stroke="#98d898" stroke-width="0.65"/>
<path d="M411.00,416.00 L411.29,415.31 L411.57,414.57 L411.84,413.78 L412.11,412.95 L412.35,412.07 L412.59,411.16 L412.82,410.20 L413.04,409.21 L413.25,408.18 L413.44,407.12 L413.63,406.03 L413.81,404.91 L413.97,403.77 L414.13,402.60 L414.27,401.42 L414.40,400.21 L414.53,398.99 L414.64,397.75 L414.74,396.51 L414.83,395.25 L414.91,393.98 L414.98,392.71 L415.04,391.44 L415.09,390.16 L415.13,388.89 L415.16,387.62 L415.17,386.35 L415.18,385.10 L415.18,383.85 L415.16,382.62 L415.14,381.40 L415.10,380.19 L415.06,379.01 L415.00,377.85 L414.94,376.71 L414.86,375.60 L414.77,374.52 L414.67,373.46 L414.57,372.44 L414.45,371.46 L414.32,370.51 L414.18,369.60 L414.03,368.73 L413.87,367.90 L413.70,367.13 L413.52,366.40 L413.32,365.72 L413.12,365.09" fill="none" stroke="#98d898" stroke-width="0.65"/>
<path d="M411.00,416.00 L411.58,415.44 L412.15,414.81 L412.69,414.13 L413.21,413.40 L413.71,412.61 L414.19,411.77 L414.64,410.88 L415.08,409.95 L415.50,408.97 L415.89,407.95 L416.26,406.90 L416.61,405.81 L416.94,404.69 L417.25,403.54 L417.54,402.37 L417.81,401.17 L418.05,399.94 L418.28,398.70 L418.48,397.44 L418.66,396.17 L418.82,394.89 L418.96,393.59 L419.08,392.29 L419.18,390.99 L419.26,389.69 L419.31,388.38 L419.35,387.09 L419.36,385.79 L419.35,384.51 L419.32,383.24 L419.27,381.98 L419.20,380.74 L419.11,379.53 L419.00,378.33 L418.87,377.16 L418.71,376.01 L418.54,374.90 L418.34,373.81 L418.13,372.77 L417.89,371.76 L417.63,370.79 L417.35,369.86 L417.05,368.98 L416.73,368.15 L416.38,367.37 L416.02,366.64 L415.64,365.97 L415.23,365.35" fill="none" stroke="#98d898" stroke-width="0.65"/>
<path d="M411.00,416.00 L411.88,415.56 L412.72,415.06 L413.53,414.48 L414.32,413.84 L415.06,413.14 L415.78,412.38 L416.47,411.56 L417.12,410.69 L417.74,409.76 L418.33,408.79 L418.89,407.77 L419.42,406.72 L419.91,405.62 L420.38,404.49 L420.81,403.32 L421.21,402.13 L421.57,400.90 L421.91,399.66 L422.22,398.39 L422.49,397.11 L422.73,395.81 L422.94,394.49 L423.12,393.17 L423.26,391.84 L423.38,390.51 L423.46,389.18 L423.51,387.85 L423.53,386.53 L423.52,385.21 L423.48,383.91 L423.40,382.62 L423.30,381.35 L423.16,380.10 L422.99,378.87 L422.79,377.67 L422.55,376.49 L422.29,375.35 L421.99,374.25 L421.67,373.18 L421.31,372.16 L420.92,371.18 L420.50,370.24 L420.04,369.36 L419.56,368.53 L419.04,367.75 L418.50,367.04 L417.92,366.38 L417.31,365.79" fill="none" stroke="#98d898" stroke-width="0.65"/>
<path d="M411.00,416.00 L412.17,415.69 L413.30,415.30 L414.38,414.83 L415.42,414.29 L416.42,413.67 L417.38,412.99 L418.29,412.24 L419.16,411.43 L419.99,410.55 L420.78,409.63 L421.52,408.65 L422.22,407.62 L422.88,406.55 L423.50,405.44 L424.07,404.28 L424.61,403.09 L425.10,401.87 L425.54,400.62 L425.95,399.35 L426.31,398.05 L426.63,396.74 L426.91,395.41 L427.15,394.07 L427.34,392.72 L427.49,391.36 L427.60,390.00 L427.67,388.64 L427.70,387.29 L427.68,385.95 L427.62,384.62 L427.52,383.30 L427.37,382.00 L427.19,380.72 L426.96,379.47 L426.69,378.24 L426.38,377.05 L426.02,375.89 L425.63,374.77 L425.19,373.69 L424.71,372.66 L424.18,371.67 L423.62,370.74 L423.01,369.86 L422.36,369.04 L421.67,368.28 L420.94,367.58 L420.16,366.96 L419.34,366.40" fill="none" stroke="#98d898" stroke-width="0.65"/>
<path d="M411.00,416.00 L412.46,415.82 L413.87,415.55 L415.22,415.18 L416.53,414.74 L417.77,414.21 L418.97,413.60 L420.11,412.92 L421.20,412.17 L422.24,411.35 L423.22,410.47 L424.15,409.53 L425.03,408.53 L425.85,407.48 L426.62,406.39 L427.34,405.25 L428.00,404.07 L428.62,402.85 L429.18,401.60 L429.68,400.32 L430.13,399.01 L430.53,397.69 L430.88,396.34 L431.17,394.98 L431.42,393.61 L431.60,392.23 L431.74,390.85 L431.82,389.47 L431.85,388.09 L431.82,386.72 L431.75,385.37 L431.62,384.03 L431.44,382.70 L431.20,381.40 L430.91,380.13 L430.57,378.89 L430.18,377.68 L429.73,376.51 L429.23,375.38 L428.68,374.29 L428.07,373.26 L427.41,372.27 L426.70,371.35 L425.93,370.48 L425.12,369.68 L424.25,368.94 L423.32,368.28 L422.35,367.69 L421.32,367.18" fill="none" stroke="#98d898" stroke-width="0.65"/>
<path d="M411.00,416.00 L412.64,415.95 L414.26,415.79 L415.85,415.53 L417.40,415.18 L418.91,414.74 L420.38,414.21 L421.80,413.60 L423.17,412.91 L424.48,412.14 L425.66,411.31 L426.78,410.41 L427.83,409.44 L428.82,408.42 L429.74,407.34 L430.60,406.22 L431.40,405.05 L432.13,403.83 L432.80,402.58 L433.41,401.30 L433.95,399.99 L434.43,398.65 L434.84,397.29 L435.19,395.91 L435.48,394.52 L435.70,393.13 L435.86,391.73 L435.96,390.32 L435.99,388.93 L435.95,387.54 L435.86,386.16 L435.70,384.80 L435.48,383.45 L435.09,382.14 L434.60,380.85 L434.05,379.59 L433.43,378.37 L432.75,377.20 L432.02,376.06 L431.23,374.98 L430.40,373.95 L429.52,372.98 L428.62,372.06 L427.69,371.22 L426.75,370.44 L425.81,369.74 L424.89,369.12 L424.02,368.58 L423.23,368.12" fill="none" stroke="#98d898" stroke-width="0.65"/>
<circle cx="380" cy="355.5" r="3.8" fill="#fff" stroke="#555" stroke-width="0.9"/>
<circle cx="380" cy="355.5" r="2.2" fill="none" stroke="#777" stroke-width="0.6"/>
<path d="M378,359.3 L378,362 L382,362 L382,359.3" fill="#fff" stroke="#666" stroke-width="0.6"/>
<circle cx="408" cy="355.5" r="3.8" fill="#fff" stroke="#555" stroke-width="0.9"/>
<circle cx="408" cy="355.5" r="2.2" fill="none" stroke="#777" stroke-width="0.6"/>
<path d="M406,359.3 L406,362 L410,362 L410,359.3" fill="#fff" stroke="#666" stroke-width="0.6"/>
<path d="M368.6,363 L390.4,363 L388,365.6 L371,365.6 Z" fill="#fff" stroke="#777" stroke-width="0.7"/>
<path d="M398,363 L419,363 L416.5,365.6 L400.5,365.6 Z" fill="#fff" stroke="#777" stroke-width="0.7"/>
<path d="M381,350.6 L334.4,350.6 L334.4,416.4 L378,416.4" fill="none" stroke="#222" stroke-width="1"/>
<text transform="translate(329.70,383.40) rotate(-90) scale(0.88,1)" x="0" y="3.96" font-family="Liberation Serif" font-size="12" fill="#222" text-anchor="middle" >136, 97</text>
<line x1="445.90" y1="328.00" x2="445.90" y2="364.80" stroke="#222" stroke-width="1" />
<line x1="444.30" y1="328.00" x2="447.50" y2="328.00" stroke="#222" stroke-width="1" />
<line x1="444.30" y1="364.80" x2="447.50" y2="364.80" stroke="#222" stroke-width="1" />
<text transform="translate(442.30,346.90) rotate(-90) scale(0.88,1)" x="0" y="3.63" font-family="Liberation Serif" font-size="11" fill="#222" text-anchor="middle" >76, 04</text>
<line x1="460.80" y1="308.00" x2="460.80" y2="414.70" stroke="#222" stroke-width="1" />
<line x1="459.20" y1="308.00" x2="462.40" y2="308.00" stroke="#222" stroke-width="1" />
<line x1="459.20" y1="414.70" x2="462.40" y2="414.70" stroke="#222" stroke-width="1" />
<text transform="translate(456.90,361.90) rotate(-90) scale(0.96,1)" x="0" y="3.47" font-family="Liberation Serif" font-size="10.5" fill="#222" text-anchor="middle" >220</text>
<text x="283.00" y="474.40" font-family="Liberation Sans" font-size="14" fill="#231f20" text-anchor="start" letter-spacing="0.55" stroke="#231f20" stroke-width="0.08">1 Настенный анкер</text>
<text x="283.00" y="491.10" font-family="Liberation Sans" font-size="14" fill="#231f20" text-anchor="start" letter-spacing="0.55" stroke="#231f20" stroke-width="0.08">2 Самонарезающий винт</text>
<text x="283.00" y="507.80" font-family="Liberation Sans" font-size="14" fill="#231f20" text-anchor="start" letter-spacing="0.55" stroke="#231f20" stroke-width="0.08">3 Клемма</text>
<text x="283.00" y="524.50" font-family="Liberation Sans" font-size="14" fill="#231f20" text-anchor="start" letter-spacing="0.55" stroke="#231f20" stroke-width="0.08">4 Гайка</text>
<text x="219.70" y="576.10" font-family="Liberation Sans" font-size="12" fill="#231f20" text-anchor="start" stroke="#231f20" stroke-width="0.2">Product coding: LUXURY AP2</text>
</svg>
</body></html>
